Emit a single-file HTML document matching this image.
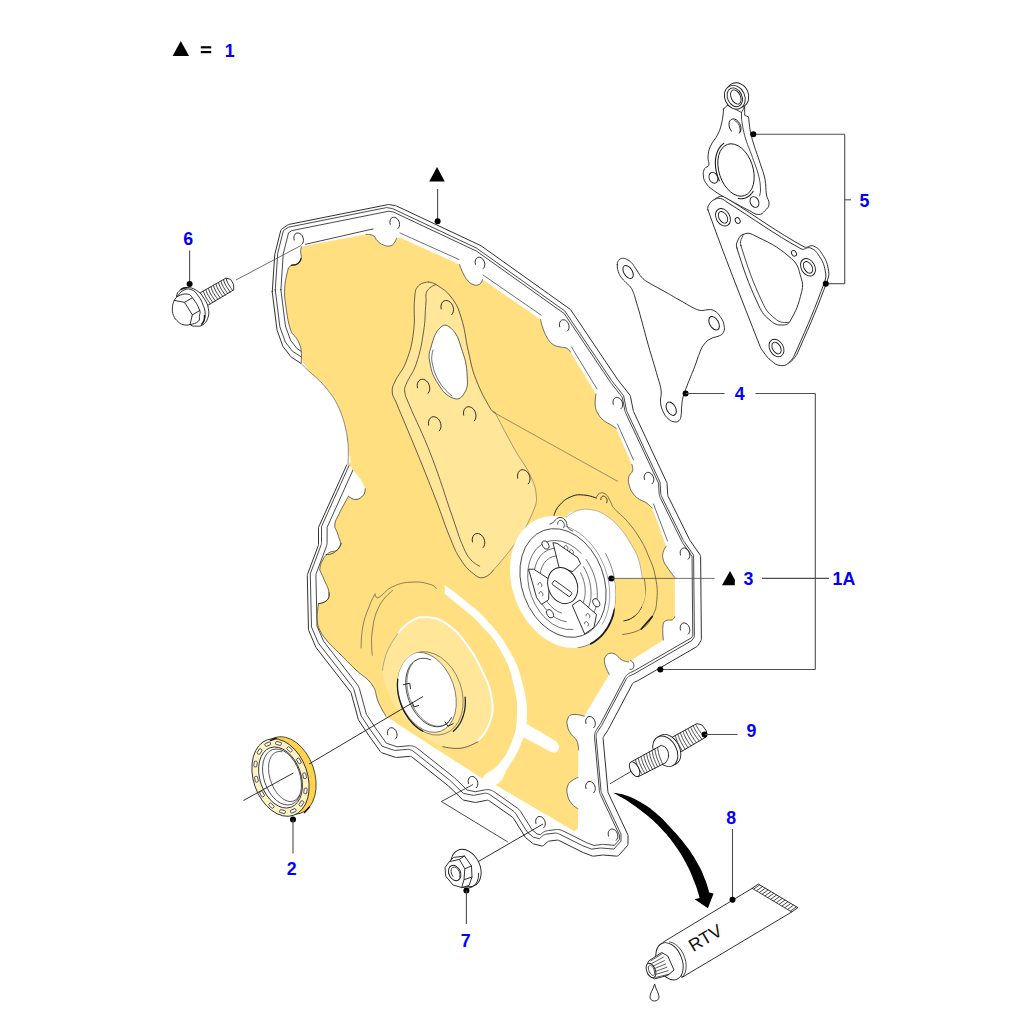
<!DOCTYPE html>
<html><head><meta charset="utf-8"><title>diagram</title><style>html,body{margin:0;padding:0;background:#fff}svg{display:block}text{font-family:"Liberation Sans",sans-serif}</style></head><body>
<svg width="1024" height="1024" viewBox="0 0 1024 1024">
<defs><clipPath id="cutout"><path d="M0,0H1024V1024H0Z M" clip-rule="evenodd"/></clipPath></defs>
<path d="M272.27,291.67 L272.27,292 L272.29,292.33 L276.95,329.61 L277.02,330 L277.13,330.37 L282.71,345.88 L282.85,346.22 L283.03,346.54 L283.24,346.84 L290.73,356.53 L290.99,356.83 L291.28,357.09 L291.6,357.32 L300.14,362.84 L300.51,363.11 L300.78,363.35 L301.02,363.62 L301.24,363.92 L301.47,364.32 L329.88,419.77 L330.09,420.24 L346.68,462.29 L346.82,462.71 L346.89,463.05 L346.94,463.39 L346.95,463.74 L346.92,464.09 L346.86,464.43 L346.77,464.77 L346.61,465.18 L318.81,526.81 L318.68,527.16 L318.58,527.52 L318.52,527.88 L318.5,528.25 L318.5,544.29 L318.48,544.68 L318.44,544.99 L318.37,545.29 L318.25,545.67 L307.49,574.37 L307.39,574.68 L307.31,575.01 L307.27,575.34 L307.27,575.68 L308.48,629.32 L308.51,629.66 L308.56,629.99 L308.65,630.31 L308.77,630.62 L315.82,647.09 L315.95,647.36 L316.1,647.61 L316.28,647.86 L350.52,691.88 L350.76,692.23 L350.93,692.53 L351.07,692.85 L351.21,693.26 L358.35,719.45 L358.47,719.81 L358.62,720.15 L358.82,720.47 L368.47,734.95 L368.53,735.05 L380.34,751.57 L380.57,751.86 L380.82,752.12 L381.11,752.35 L381.41,752.56 L381.74,752.73 L382.08,752.86 L395.32,757.27 L395.66,757.37 L396.01,757.43 L396.36,757.45 L396.72,757.44 L409.54,756.37 L409.95,756.36 L410.28,756.38 L410.6,756.43 L410.92,756.51 L411.23,756.62 L411.53,756.76 L411.82,756.92 L412.15,757.16 L448.3,785.84 L448.68,786.18 L462.26,799.29 L462.51,799.51 L462.78,799.7 L463.07,799.87 L463.37,800.01 L463.68,800.12 L464.01,800.2 L474.81,802.36 L475.16,802.41 L475.5,802.43 L475.84,802.41 L476.19,802.36 L486.45,800.31 L486.88,800.25 L487.24,800.23 L487.59,800.25 L487.94,800.3 L488.28,800.39 L488.61,800.52 L488.92,800.67 L489.3,800.91 L512.34,817.04 L512.69,817.31 L512.94,817.55 L513.17,817.82 L513.42,818.18 L525.2,837.02 L525.42,837.33 L525.66,837.61 L525.93,837.86 L532.38,843.24 L532.64,843.43 L532.9,843.59 L533.18,843.74 L533.48,843.85 L533.78,843.94 L541.08,845.77 L541.43,845.84 L541.79,845.87 L542.15,845.87 L542.51,845.83 L542.86,845.75 L543.2,845.63 L543.53,845.48 L543.84,845.3 L544.13,845.09 L544.4,844.85 L547.09,842.16 L547.4,841.88 L547.66,841.68 L547.94,841.51 L548.24,841.36 L548.55,841.25 L548.87,841.16 L549.27,841.09 L556.86,840.14 L557.29,840.11 L557.63,840.12 L557.97,840.16 L558.31,840.23 L558.63,840.34 L559.02,840.51 L582.84,852.42 L583.17,852.56 L592.19,855.95 L592.51,856.05 L592.84,856.12 L593.18,856.16 L593.52,856.17 L593.86,856.14 L602.55,855.06 L603,855.02 L603.45,855.04 L616.26,856.1 L616.62,856.12 L616.98,856.09 L617.33,856.03 L617.68,855.93 L618.01,855.8 L618.33,855.63 L618.63,855.43 L618.91,855.2 L619.16,854.94 L627.12,845.99 L627.34,845.71 L627.54,845.41 L627.7,845.08 L627.83,844.74 L627.92,844.39 L627.98,844.03 L628,843.67 L628,835.78 L627.98,835.4 L627.92,835.02 L627.81,834.65 L627.67,834.29 L608.3,793.13 L608.15,792.78 L608.06,792.48 L607.99,792.19 L607.94,791.81 L603.12,738.81 L603.1,738.39 L603.12,738.05 L603.17,737.72 L603.25,737.39 L603.37,737.07 L603.51,736.77 L603.73,736.4 L607.9,730.15 L608.08,729.84 L632.38,683.92 L632.6,683.55 L632.8,683.28 L633.02,683.03 L633.27,682.8 L633.54,682.59 L633.83,682.41 L634.21,682.23 L637.81,680.68 L638.18,680.5 L696.74,646.69 L697.03,646.5 L697.3,646.29 L697.55,646.05 L697.77,645.79 L697.96,645.51 L700.86,640.87 L701.02,640.58 L701.16,640.27 L701.26,639.96 L701.33,639.64 L701.38,639.31 L701.39,638.98 L700.61,556.68 L700.59,556.33 L700.53,555.99 L700.44,555.65 L700.32,555.32 L700.17,555.01 L699.98,554.71 L689.89,540.27 L689.71,539.99 L689.55,539.7 L668.15,496.31 L667.98,495.91 L667.87,495.58 L667.8,495.24 L667.75,494.82 L667.04,483.66 L667.01,483.34 L666.94,483.02 L666.84,482.7 L666.72,482.4 L633.63,411.73 L633.43,411.24 L633.3,410.73 L630.46,396.43 L630.38,396.11 L630.27,395.79 L630.14,395.49 L629.97,395.21 L629.78,394.94 L618.12,380.15 L617.89,379.84 L570.85,310.03 L570.67,309.77 L570.46,309.54 L570.23,309.33 L569.98,309.13 L481.26,245.93 L480.99,245.76 L480.72,245.62 L396.44,205.96 L396.14,205.83 L395.84,205.74 L395.52,205.67 L389.13,204.61 L388.82,204.57 L388.5,204.56 L388.18,204.58 L387.87,204.63 L289.18,224.36 L288.85,224.45 L288.53,224.56 L288.22,224.71 L287.92,224.88 L282.13,228.75 L281.87,228.94 L281.62,229.15 L281.4,229.39 L281.21,229.65 L281.03,229.92 L280.89,230.2 L280.76,230.5 L280.67,230.81 L274.83,254.2 L274.76,254.5 L274.73,254.81 L272.27,291.67 Z" fill="#fff" stroke="#1a1a1a" stroke-width="0.9" stroke-linecap="round" stroke-linejoin="round" />
<path d="M275.27,289.85 L279.89,326.83 L285.34,341.96 L292.53,351.26 L300.85,356.64 L301.07,356.79 L301.44,357.06 L301.84,357.39 L302.12,357.63 L302.49,358 L302.73,358.27 L303.06,358.68 L303.28,358.97 L303.56,359.41 L303.79,359.81 L303.92,360.04 L332.33,415.49 L332.44,415.71 L332.65,416.18 L332.75,416.41 L349.33,458.46 L349.41,458.69 L349.55,459.11 L349.69,459.59 L349.77,459.93 L349.85,460.42 L349.9,460.77 L349.94,461.26 L349.94,461.61 L349.93,462.11 L349.91,462.46 L349.85,462.96 L349.78,463.3 L349.67,463.79 L349.58,464.12 L349.42,464.6 L349.26,465 L349.16,465.23 L321.5,526.58 L321.5,542.29 L321.49,542.51 L321.48,542.9 L321.44,543.35 L321.4,543.66 L321.32,544.1 L321.25,544.41 L321.13,544.84 L321.01,545.21 L320.93,545.42 L310.27,573.85 L311.48,626.92 L318.34,642.94 L352.46,686.81 L352.61,687.01 L352.86,687.36 L353.12,687.78 L353.29,688.08 L353.51,688.52 L353.65,688.84 L353.83,689.3 L353.96,689.71 L354.03,689.94 L361.11,715.9 L370.61,730.15 L370.62,730.17 L382.12,746.27 L394.61,750.43 L407.12,749.39 L407.36,749.38 L407.77,749.36 L408.24,749.37 L408.57,749.38 L409.04,749.43 L409.36,749.48 L409.82,749.58 L410.14,749.66 L410.59,749.79 L410.9,749.9 L411.34,750.08 L411.64,750.22 L412.06,750.44 L412.34,750.61 L412.74,750.86 L413.07,751.1 L413.26,751.25 L449.41,779.92 L449.59,780.08 L449.98,780.42 L450.16,780.58 L463.42,793.38 L473.5,795.4 L483.47,793.41 L483.71,793.36 L484.15,793.3 L484.65,793.25 L485.01,793.24 L485.51,793.24 L485.86,793.26 L486.37,793.31 L486.71,793.37 L487.21,793.47 L487.55,793.56 L488.03,793.71 L488.36,793.84 L488.82,794.04 L489.14,794.19 L489.58,794.44 L489.96,794.67 L490.17,794.81 L513.21,810.95 L513.41,811.09 L513.76,811.36 L514.14,811.69 L514.39,811.93 L514.74,812.3 L514.97,812.56 L515.27,812.96 L515.53,813.32 L515.66,813.53 L527.32,832.17 L533.32,837.18 L539.47,838.71 L541.56,836.62 L541.73,836.46 L542.03,836.18 L542.4,835.88 L542.66,835.68 L543.05,835.42 L543.33,835.25 L543.75,835.02 L544.04,834.87 L544.48,834.69 L544.79,834.57 L545.23,834.42 L545.55,834.34 L546.01,834.23 L546.42,834.16 L546.65,834.13 L554.24,833.18 L554.49,833.16 L554.91,833.12 L555.4,833.11 L555.75,833.12 L556.23,833.15 L556.57,833.2 L557.06,833.28 L557.39,833.35 L557.86,833.48 L558.19,833.59 L558.65,833.76 L559.04,833.94 L559.26,834.04 L582.95,845.89 L583.05,845.93 L591.6,849.14 L599.93,848.1 L600.19,848.07 L600.64,848.04 L601.16,848.03 L601.61,848.04 L601.87,848.06 L613.92,849.06 L621,841.1 L621,834.12 L601.77,793.26 L601.68,793.06 L601.54,792.71 L601.38,792.3 L601.29,792.01 L601.18,791.58 L601.11,791.29 L601.03,790.86 L600.98,790.48 L600.96,790.26 L596.14,737.27 L596.12,737.03 L596.11,736.6 L596.11,736.12 L596.13,735.78 L596.18,735.3 L596.23,734.96 L596.33,734.49 L596.41,734.16 L596.55,733.7 L596.67,733.38 L596.85,732.93 L597,732.62 L597.22,732.2 L597.44,731.83 L597.57,731.63 L601.67,725.48 L601.72,725.39 L625.96,679.58 L626.08,679.37 L626.3,679 L626.56,678.6 L626.76,678.32 L627.07,677.95 L627.29,677.7 L627.63,677.35 L627.88,677.12 L628.25,676.81 L628.52,676.61 L628.92,676.33 L629.21,676.16 L629.64,675.92 L630.02,675.74 L630.24,675.64 L633.7,674.15 L633.81,674.09 L691.92,640.54 L694.39,636.59 L693.61,555.2 L683.79,541.14 L683.69,540.98 L683.51,540.7 L683.31,540.37 L683.16,540.08 L683.07,539.91 L661.66,496.52 L661.56,496.29 L661.39,495.9 L661.21,495.44 L661.11,495.11 L660.98,494.63 L660.91,494.29 L660.83,493.81 L660.78,493.38 L660.76,493.13 L660.07,482.26 L627.1,411.85 L626.98,411.57 L626.78,411.08 L626.59,410.51 L626.46,409.99 L626.39,409.7 L623.63,395.75 L612.2,381.25 L612.08,381.1 L611.85,380.78 L611.74,380.63 L564.86,311.05 L476.46,248.08 L392.5,208.57 L386.58,207.58 L288.45,227.21 L283.38,230.59 L277.71,253.28 L275.27,289.85 Z" fill="none" stroke="#1a1a1a" stroke-width="0.8" stroke-linecap="round" stroke-linejoin="round" />
<path d="M280.89,289.75 L285.42,325.99 L290.53,340.21 L297,348.58 L304.8,353.62 L305.18,353.87 L305.55,354.14 L306.25,354.71 L306.52,354.95 L307.16,355.59 L307.4,355.86 L307.97,356.55 L308.19,356.85 L308.68,357.6 L308.91,358 L309.12,358.39 L337.54,413.85 L337.72,414.23 L337.93,414.7 L338.09,415.08 L354.68,457.14 L354.82,457.54 L354.96,457.96 L355.2,458.78 L355.28,459.12 L355.43,459.97 L355.47,460.31 L355.53,461.17 L355.54,461.52 L355.52,462.38 L355.5,462.73 L355.39,463.58 L355.33,463.92 L355.14,464.76 L355.05,465.1 L354.77,465.91 L354.61,466.32 L354.45,466.71 L327.1,527.35 L327.1,542.29 L327.09,542.67 L327.07,543.06 L327,543.83 L326.96,544.14 L326.83,544.9 L326.76,545.21 L326.55,545.95 L326.43,546.32 L326.3,546.69 L315.89,574.46 L317.06,626.14 L323.47,641.09 L357.31,684.6 L357.56,684.94 L357.81,685.29 L358.26,686.01 L358.43,686.31 L358.81,687.07 L358.95,687.39 L359.25,688.18 L359.38,688.59 L359.5,689 L366.43,714.39 L375.58,728.11 L386.37,743.23 L397.04,746.78 L408.82,745.8 L409.23,745.78 L409.64,745.76 L410.45,745.77 L410.78,745.79 L411.58,745.88 L411.91,745.93 L412.7,746.09 L413.02,746.17 L413.8,746.4 L414.11,746.51 L414.86,746.82 L415.16,746.96 L415.87,747.33 L416.16,747.5 L416.84,747.94 L417.17,748.18 L417.49,748.42 L453.64,777.1 L453.97,777.37 L454.35,777.71 L454.66,777.99 L467.16,790.06 L475.5,791.73 L484.76,789.88 L485.19,789.8 L485.62,789.74 L486.49,789.66 L486.84,789.64 L487.71,789.64 L488.06,789.66 L488.93,789.75 L489.27,789.81 L490.12,789.99 L490.46,790.08 L491.29,790.34 L491.62,790.46 L492.42,790.81 L492.74,790.97 L493.49,791.39 L493.87,791.62 L494.23,791.86 L517.28,808 L517.62,808.25 L517.97,808.52 L518.62,809.08 L518.88,809.33 L519.47,809.95 L519.7,810.22 L520.23,810.9 L520.48,811.26 L520.72,811.62 L532.06,829.77 L536.99,833.88 L540.36,834.73 L541.01,834.08 L541.31,833.8 L541.61,833.52 L542.24,833 L542.5,832.8 L543.17,832.35 L543.45,832.17 L544.16,831.78 L544.46,831.64 L545.21,831.32 L545.52,831.2 L546.29,830.95 L546.61,830.86 L547.4,830.69 L547.81,830.62 L548.21,830.56 L555.8,829.61 L556.22,829.57 L556.64,829.53 L557.49,829.51 L557.83,829.52 L558.67,829.58 L559.01,829.62 L559.84,829.76 L560.17,829.84 L560.98,830.06 L561.31,830.17 L562.1,830.47 L562.49,830.64 L562.87,830.82 L586.44,842.61 L594.04,845.45 L601.48,844.52 L601.93,844.48 L602.38,844.45 L603.27,844.43 L603.72,844.44 L604.17,844.47 L614.43,845.32 L619.4,839.73 L619.4,834.92 L600.51,794.79 L600.36,794.45 L600.21,794.09 L599.96,793.39 L599.86,793.1 L599.67,792.38 L599.6,792.08 L599.47,791.34 L599.41,790.96 L599.37,790.59 L594.55,737.59 L594.53,737.18 L594.51,736.75 L594.51,735.92 L594.53,735.58 L594.62,734.75 L594.67,734.42 L594.84,733.6 L594.92,733.27 L595.16,732.48 L595.28,732.16 L595.6,731.39 L595.74,731.08 L596.14,730.35 L596.35,729.98 L596.58,729.63 L600.6,723.59 L624.78,677.89 L624.99,677.53 L625.2,677.17 L625.66,676.47 L625.86,676.2 L626.38,675.55 L626.61,675.3 L627.19,674.7 L627.44,674.48 L628.08,673.94 L628.35,673.74 L629.04,673.27 L629.33,673.09 L630.06,672.69 L630.44,672.5 L630.81,672.33 L634.14,670.9 L691.34,637.88 L692.78,635.57 L692.03,556.34 L682.84,543.2 L682.66,542.93 L682.48,542.65 L682.15,542.09 L681.99,541.8 L681.84,541.51 L660.44,498.11 L660.26,497.72 L660.09,497.33 L659.79,496.53 L659.68,496.21 L659.46,495.39 L659.39,495.05 L659.25,494.21 L659.2,493.78 L659.17,493.36 L658.52,483.17 L625.84,413.38 L625.63,412.9 L625.44,412.41 L625.11,411.42 L624.98,410.91 L624.86,410.4 L622.27,397.3 L611.37,383.48 L611.17,383.22 L610.94,382.91 L610.76,382.64 L564.24,313.6 L476.64,251.2 L393.41,212.04 L388.64,211.24 L291.85,230.6 L288.54,232.81 L283.28,253.84 L280.89,289.75 Z" fill="none" stroke="#1a1a1a" stroke-width="0.8" stroke-linecap="round" stroke-linejoin="round" />
<path d="M305.5,244.3 L366,230.5 L373,229" fill="none" stroke="#1a1a1a" stroke-width="0.8" stroke-linecap="round" stroke-linejoin="round" />
<path d="M301.6,246.8 C301.6,246.8 366,234.3 366,234.3 C366,234.3 370.52,234.04 373.5,235.75 C375.94,237.15 375.19,238.84 377.25,240.75 C379.75,243.06 380.3,243.84 383.5,245 C386.69,246.16 387.72,246.62 391,245.75 C393.31,245.14 393.34,243.92 394.75,242 C395.85,240.5 396.5,238.25 396.5,238.25 C396.5,238.25 399.75,237.5 399.75,237.5 C399.75,237.5 459.5,264.5 459.5,264.5 C459.5,264.5 461.15,269.3 463,273 C464.65,276.3 464.83,277.22 467.25,280 C469.41,282.48 469.9,283.41 473,284.5 C475.76,285.47 476.9,285.65 479.5,284.3 C481.78,283.11 482.6,279.5 482.6,279.5 C482.6,279.5 540.5,319.5 540.5,319.5 C540.5,319.5 541.33,323.71 542.5,327 C544.14,331.6 544.23,332.81 546.75,337 C549.01,340.77 549.45,341.92 553,344.5 C555.88,346.59 557.07,346.06 560.5,347 C563.27,347.75 564.18,346.97 566.75,348.25 C568.88,349.32 570.5,352 570.5,352 C570.5,352 596,394 596,394 C596,394 594.81,400.05 595.2,405 C595.49,408.65 595.79,409.56 597.5,412.8 C599.37,416.34 600.01,417.13 603,419.8 C606.4,422.83 607.68,422.82 611.5,425.3 C613.64,426.69 616.25,428.4 616.25,428.4 C616.25,428.4 631.9,464.4 631.9,464.4 C631.9,464.4 633.29,467.88 632.6,470.6 C631.79,473.82 629.4,473.64 628.75,476.9 C627.93,481.04 628.39,482.18 629.5,486.25 C630.52,490.02 631.02,490.91 633.4,494 C635.7,496.98 636.59,497.38 639.7,499.5 C642.31,501.28 643.4,500.81 646,502.6 C649.07,504.71 652.2,508.1 652.2,508.1 C652.2,508.1 666.25,546.25 666.25,546.25 C666.25,546.25 663.73,549.41 663.1,552.5 C662.4,555.94 662.39,556.94 663.4,560.3 C664.56,564.16 665.57,564.74 667.8,568.1 C670.71,572.5 674.8,577.5 674.8,577.5 C674.8,577.5 674.8,616.6 674.8,616.6 C674.8,616.6 674.08,618.98 672.5,619.7 C669.92,620.88 668.79,619.23 666.25,620.5 C664.23,621.51 663.43,622.17 663.1,624.4 C662.15,630.9 663.4,640 663.4,640 C663.4,640 628.75,661.9 628.75,661.9 C628.75,661.9 625.09,661.6 622.5,660.3 C620.04,659.07 619.9,658.17 617.8,656.4 C616.75,655.52 616.77,654.91 615.5,654.4 C613.15,653.47 612.47,652.8 610,653.3 C607.63,653.78 606.9,654.36 605.6,656.4 C604.24,658.53 604.25,659.39 604.5,661.9 C604.86,665.55 605.61,666.26 606.9,669.7 C607.73,671.9 609.2,674.4 609.2,674.4 C609.2,674.4 584.25,716.25 584.25,716.25 C584.25,716.25 578.09,713.95 573,714.5 C570.27,714.79 569.18,715.52 568,718 C566.44,721.25 566.84,722.45 567.5,726 C568.22,729.86 568.9,730.68 571,734 C573.22,737.5 575.24,737.24 577,741 C578.74,744.72 578.5,750 578.5,750 C578.5,750 578,777.5 578,777.5 C578,777.5 575.01,778.49 573,780 C570.45,781.91 569.1,782.01 568,785 C566.45,789.23 566.57,790.59 567.5,795 C568.43,799.43 569.25,800.4 572,804 C574.09,806.74 578,808.75 578,808.75 C578,808.75 578,828.75 578,828.75 C578,828.75 574.25,831.25 574.25,831.25 C574.25,831.25 495.5,785 495.5,785 C495.5,785 483,778.75 483,778.75 C483,778.75 436,748.75 436,748.75 C436,748.75 386,716.25 386,716.25 C386,716.25 381.34,708.95 378.5,702.5 C375.13,694.85 377.01,691.88 372.25,685 C366.59,676.82 363.17,676.9 356,670 C347.98,662.27 346.38,660.38 338.5,652.5 C334,648 332.57,647.39 328.5,642.5 C324.1,637.23 322.82,636.14 319.75,630 C317.68,625.85 317.47,624.63 317.25,620 C316.9,612.67 318.5,603.75 318.5,603.75 C318.5,603.75 324.33,603.13 327.25,600 C329.61,597.47 329.46,595.94 329,592.5 C328.28,587.14 326.81,586.26 324.75,581.25 C322.64,576.13 319.75,570 319.75,570 C319.75,570 319.91,565.58 321.5,562.5 C323.93,557.78 324.34,556.3 328.5,553 C331.76,550.41 333.9,552.48 337.25,550 C339.89,548.05 341,543.75 341,543.75 C341,543.75 338.94,537.56 337.25,532.5 C336.12,529.12 334.5,528.55 334.75,525 C335.09,520.21 336.43,519.34 338.5,515 C342.63,506.37 348.5,496.25 348.5,496.25 C348.5,496.25 352.33,499.81 356,499.5 C359.92,499.17 360.93,497.98 363.5,495 C365.4,492.79 365.25,488.75 365.25,488.75 C365.25,488.75 363.39,483.67 361,480 C357.5,474.62 356.07,473.9 352.25,468.75 C350.22,466.02 348,462.5 348,462.5 C348,462.5 348.33,455.63 348.3,450 C348.28,446.62 348.32,445.85 347.9,442.5 C347.1,436.12 347.03,434.67 345.6,428.4 C344.14,422 343.79,420.55 341.5,414.4 C339.28,408.42 338.68,407.09 335.6,401.5 C332.86,396.53 332.08,395.48 328.6,391 C324.69,385.97 323.7,384.92 319.2,380.4 C314.73,375.9 313.33,375.33 308.7,371 C305.14,367.68 301,363.4 301,363.4 C301,363.4 301.67,357.9 301.4,353.4 C301.17,349.66 301.07,348.76 299.9,345.2 C298.8,341.85 298.27,341.18 296.4,338.2 C294.3,334.85 292.35,334.95 291.1,331.2 C287.63,320.8 287.58,318.02 286,307 C284.72,298.07 284.19,296 284.75,287 C285.28,278.44 288.4,268.3 288.4,268.3 C288.4,268.3 289.62,266.14 291.3,265.3 C294.18,263.86 295.55,265.24 298.2,263.4 C300.31,261.94 300.62,261.02 301.1,258.5 C301.75,255.04 300.45,254.21 300.6,250.7 C300.68,248.89 301.6,246.8 301.6,246.8 Z" fill="#FFDF80" stroke="none"/>
<path d="M301,363.4 C305.18,360.91 305.14,367.68 308.7,371 C313.33,375.33 314.73,375.9 319.2,380.4 C323.7,384.92 324.69,385.97 328.6,391 C332.08,395.48 332.86,396.53 335.6,401.5 C338.68,407.09 339.28,408.42 341.5,414.4 C343.79,420.55 344.14,422 345.6,428.4 C347.03,434.67 347.1,436.12 347.9,442.5 C348.32,445.85 348.28,446.62 348.3,450 C348.33,456.3 353.82,461.59 348,464 C331.9,470.67 317.6,482.8 300,470 C270.67,448.67 259.67,435.53 260,400 C260.23,375.27 284.77,373.07 301,363.4 Z" fill="#fff" stroke="none"/>
<path d="M301,363.4 C301,363.4 305.14,367.68 308.7,371 C313.33,375.33 314.73,375.9 319.2,380.4 C323.7,384.92 324.69,385.97 328.6,391 C332.08,395.48 332.86,396.53 335.6,401.5 C338.68,407.09 339.28,408.42 341.5,414.4 C343.79,420.55 344.14,422 345.6,428.4 C347.03,434.67 347.1,436.12 347.9,442.5 C348.32,445.85 348.28,446.62 348.3,450 C348.33,456.3 348,464 348,464" fill="none" stroke="#444" stroke-width="0.6" stroke-linecap="round" stroke-linejoin="round" />
<path d="M390.26,224.31 L389.96,222.67 L390.01,221.07 L390.41,219.64 L391.14,218.47 L392.13,217.65 L393.31,217.25 L394.6,217.29 L395.9,217.78 L397.12,218.66 L398.16,219.89 L398.95,221.36 L399.43,222.97 L399.56,224.61 L399.34,226.14 L398.78,227.46 L397.92,228.47" fill="none" stroke="#1a1a1a" stroke-width="0.9" stroke-linecap="round" stroke-linejoin="round" />
<path d="M475.51,264.31 L475.21,262.67 L475.26,261.07 L475.66,259.64 L476.39,258.47 L477.38,257.65 L478.56,257.25 L479.85,257.29 L481.15,257.78 L482.37,258.66 L483.41,259.89 L484.2,261.36 L484.68,262.97 L484.81,264.61 L484.59,266.14 L484.03,267.46 L483.17,268.47" fill="none" stroke="#1a1a1a" stroke-width="0.9" stroke-linecap="round" stroke-linejoin="round" />
<path d="M559.76,326.81 L559.46,325.17 L559.51,323.57 L559.91,322.14 L560.64,320.97 L561.63,320.15 L562.81,319.75 L564.1,319.79 L565.4,320.28 L566.62,321.16 L567.66,322.39 L568.45,323.86 L568.93,325.47 L569.06,327.11 L568.84,328.64 L568.28,329.96 L567.42,330.97" fill="none" stroke="#1a1a1a" stroke-width="0.9" stroke-linecap="round" stroke-linejoin="round" />
<path d="M613.31,404.46 L613.01,402.82 L613.06,401.22 L613.46,399.79 L614.19,398.62 L615.18,397.8 L616.36,397.4 L617.65,397.44 L618.95,397.93 L620.17,398.81 L621.21,400.04 L622,401.51 L622.48,403.12 L622.61,404.76 L622.39,406.29 L621.83,407.61 L620.97,408.62" fill="none" stroke="#1a1a1a" stroke-width="0.9" stroke-linecap="round" stroke-linejoin="round" />
<path d="M644.51,479.46 L644.21,477.82 L644.26,476.22 L644.66,474.79 L645.39,473.62 L646.38,472.8 L647.56,472.4 L648.85,472.44 L650.15,472.93 L651.37,473.81 L652.41,475.04 L653.2,476.51 L653.68,478.12 L653.81,479.76 L653.59,481.29 L653.03,482.61 L652.17,483.62" fill="none" stroke="#1a1a1a" stroke-width="0.9" stroke-linecap="round" stroke-linejoin="round" />
<path d="M680.51,555.06 L680.21,553.42 L680.26,551.82 L680.66,550.39 L681.39,549.22 L682.38,548.4 L683.56,548 L684.85,548.04 L686.15,548.53 L687.37,549.41 L688.41,550.64 L689.2,552.11 L689.68,553.72 L689.81,555.36 L689.59,556.89 L689.03,558.21 L688.17,559.22" fill="none" stroke="#1a1a1a" stroke-width="0.9" stroke-linecap="round" stroke-linejoin="round" />
<path d="M680.51,630.06 L680.21,628.42 L680.26,626.82 L680.66,625.39 L681.39,624.22 L682.38,623.4 L683.56,623 L684.85,623.04 L686.15,623.53 L687.37,624.41 L688.41,625.64 L689.2,627.11 L689.68,628.72 L689.81,630.36 L689.59,631.89 L689.03,633.21 L688.17,634.22" fill="none" stroke="#1a1a1a" stroke-width="0.9" stroke-linecap="round" stroke-linejoin="round" />
<path d="M366,234.3 C366,234.3 370.52,234.04 373.5,235.75 C375.94,237.15 375.19,238.84 377.25,240.75 C379.75,243.06 380.3,243.84 383.5,245 C386.69,246.16 387.72,246.62 391,245.75 C393.31,245.14 393.34,243.92 394.75,242 C395.85,240.5 396.5,238.25 396.5,238.25" fill="none" stroke="#333" stroke-width="0.7" stroke-linecap="round" stroke-linejoin="round" />
<path d="M459.5,264.5 C459.5,264.5 461.15,269.3 463,273 C464.65,276.3 464.83,277.22 467.25,280 C469.41,282.48 469.9,283.41 473,284.5 C475.76,285.47 476.9,285.65 479.5,284.3 C481.78,283.11 482.6,279.5 482.6,279.5" fill="none" stroke="#333" stroke-width="0.7" stroke-linecap="round" stroke-linejoin="round" />
<path d="M540.5,319.5 C540.5,319.5 541.33,323.71 542.5,327 C544.14,331.6 544.23,332.81 546.75,337 C549.01,340.77 549.45,341.92 553,344.5 C555.88,346.59 557.07,346.06 560.5,347 C563.27,347.75 564.18,346.97 566.75,348.25 C568.88,349.32 570.5,352 570.5,352" fill="none" stroke="#333" stroke-width="0.7" stroke-linecap="round" stroke-linejoin="round" />
<path d="M596,394 C596,394 594.81,400.05 595.2,405 C595.49,408.65 595.79,409.56 597.5,412.8 C599.37,416.34 600.01,417.13 603,419.8 C606.4,422.83 607.68,422.82 611.5,425.3 C613.64,426.69 616.25,428.4 616.25,428.4" fill="none" stroke="#333" stroke-width="0.7" stroke-linecap="round" stroke-linejoin="round" />
<path d="M631.9,464.4 C631.9,464.4 633.29,467.88 632.6,470.6 C631.79,473.82 629.4,473.64 628.75,476.9 C627.93,481.04 628.39,482.18 629.5,486.25 C630.52,490.02 631.02,490.91 633.4,494 C635.7,496.98 636.59,497.38 639.7,499.5 C642.31,501.28 643.4,500.81 646,502.6 C649.07,504.71 652.2,508.1 652.2,508.1" fill="none" stroke="#333" stroke-width="0.7" stroke-linecap="round" stroke-linejoin="round" />
<path d="M666.25,546.25 C666.25,546.25 663.73,549.41 663.1,552.5 C662.4,555.94 662.39,556.94 663.4,560.3 C664.56,564.16 665.57,564.74 667.8,568.1 C670.71,572.5 674.8,577.5 674.8,577.5" fill="none" stroke="#333" stroke-width="0.7" stroke-linecap="round" stroke-linejoin="round" />
<path d="M674.8,616.6 C674.8,616.6 674.08,618.98 672.5,619.7 C669.92,620.88 668.79,619.23 666.25,620.5 C664.23,621.51 663.43,622.17 663.1,624.4 C662.15,630.9 663.4,640 663.4,640" fill="none" stroke="#333" stroke-width="0.7" stroke-linecap="round" stroke-linejoin="round" />
<path d="M628.75,661.9 C628.75,661.9 625.09,661.6 622.5,660.3 C620.04,659.07 619.9,658.17 617.8,656.4 C616.75,655.52 616.77,654.91 615.5,654.4 C613.15,653.47 612.47,652.8 610,653.3 C607.63,653.78 606.9,654.36 605.6,656.4 C604.24,658.53 604.25,659.39 604.5,661.9 C604.86,665.55 605.61,666.26 606.9,669.7 C607.73,671.9 609.2,674.4 609.2,674.4" fill="none" stroke="#333" stroke-width="0.7" stroke-linecap="round" stroke-linejoin="round" />
<path d="M584.25,716.25 C584.25,716.25 578.09,713.95 573,714.5 C570.27,714.79 569.18,715.52 568,718 C566.44,721.25 566.84,722.45 567.5,726 C568.22,729.86 568.9,730.68 571,734 C573.22,737.5 575.24,737.24 577,741 C578.74,744.72 578.5,750 578.5,750" fill="none" stroke="#333" stroke-width="0.7" stroke-linecap="round" stroke-linejoin="round" />
<path d="M578,777.5 C578,777.5 575.01,778.49 573,780 C570.45,781.91 569.1,782.01 568,785 C566.45,789.23 566.57,790.59 567.5,795 C568.43,799.43 569.25,800.4 572,804 C574.09,806.74 578,808.75 578,808.75" fill="none" stroke="#333" stroke-width="0.7" stroke-linecap="round" stroke-linejoin="round" />
<path d="M386,716.25 C386,716.25 381.34,708.95 378.5,702.5 C375.13,694.85 377.01,691.88 372.25,685 C366.59,676.82 363.17,676.9 356,670 C347.98,662.27 346.38,660.38 338.5,652.5 C334,648 332.57,647.39 328.5,642.5 C324.1,637.23 322.82,636.14 319.75,630 C317.68,625.85 317.47,624.63 317.25,620 C316.9,612.67 318.5,603.75 318.5,603.75" fill="none" stroke="#333" stroke-width="0.7" stroke-linecap="round" stroke-linejoin="round" />
<path d="M318.5,603.75 C318.5,603.75 324.33,603.13 327.25,600 C329.61,597.47 329.46,595.94 329,592.5 C328.28,587.14 326.81,586.26 324.75,581.25 C322.64,576.13 319.75,570 319.75,570" fill="none" stroke="#333" stroke-width="0.7" stroke-linecap="round" stroke-linejoin="round" />
<path d="M319.75,570 C319.75,570 319.91,565.58 321.5,562.5 C323.93,557.78 324.34,556.3 328.5,553 C331.76,550.41 333.9,552.48 337.25,550 C339.89,548.05 341,543.75 341,543.75" fill="none" stroke="#333" stroke-width="0.7" stroke-linecap="round" stroke-linejoin="round" />
<path d="M341,543.75 C341,543.75 338.94,537.56 337.25,532.5 C336.12,529.12 334.5,528.55 334.75,525 C335.09,520.21 336.43,519.34 338.5,515 C342.63,506.37 348.5,496.25 348.5,496.25" fill="none" stroke="#333" stroke-width="0.7" stroke-linecap="round" stroke-linejoin="round" />
<path d="M301,363.4 C301,363.4 301.67,357.9 301.4,353.4 C301.17,349.66 301.07,348.76 299.9,345.2 C298.8,341.85 298.27,341.18 296.4,338.2 C294.3,334.85 292.35,334.95 291.1,331.2 C287.63,320.8 287.58,318.02 286,307 C284.72,298.07 284.19,296 284.75,287 C285.28,278.44 288.4,268.3 288.4,268.3" fill="none" stroke="#333" stroke-width="0.7" stroke-linecap="round" stroke-linejoin="round" />
<path d="M288.4,268.3 C288.4,268.3 289.62,266.14 291.3,265.3 C294.18,263.86 295.55,265.24 298.2,263.4 C300.31,261.94 300.62,261.02 301.1,258.5 C301.75,255.04 300.45,254.21 300.6,250.7 C300.68,248.89 301.6,246.8 301.6,246.8" fill="none" stroke="#333" stroke-width="0.7" stroke-linecap="round" stroke-linejoin="round" />
<path d="M294.21,240.06 L293.91,238.42 L293.96,236.82 L294.36,235.39 L295.09,234.22 L296.08,233.4 L297.26,233 L298.55,233.04 L299.85,233.53 L301.07,234.41 L302.11,235.64 L302.9,237.11 L303.38,238.72 L303.51,240.36 L303.29,241.89 L302.73,243.21 L301.87,244.22" fill="none" stroke="#1a1a1a" stroke-width="0.9" stroke-linecap="round" stroke-linejoin="round" />
<path d="M586.01,723.56 L585.71,721.92 L585.76,720.32 L586.16,718.89 L586.89,717.72 L587.88,716.9 L589.06,716.5 L590.35,716.54 L591.65,717.03 L592.87,717.91 L593.91,719.14 L594.7,720.61 L595.18,722.22 L595.31,723.86 L595.09,725.39 L594.53,726.71 L593.67,727.72" fill="none" stroke="#1a1a1a" stroke-width="0.9" stroke-linecap="round" stroke-linejoin="round" />
<path d="M586.01,788.56 L585.71,786.92 L585.76,785.32 L586.16,783.89 L586.89,782.72 L587.88,781.9 L589.06,781.5 L590.35,781.54 L591.65,782.03 L592.87,782.91 L593.91,784.14 L594.7,785.61 L595.18,787.22 L595.31,788.86 L595.09,790.39 L594.53,791.71 L593.67,792.72" fill="none" stroke="#1a1a1a" stroke-width="0.9" stroke-linecap="round" stroke-linejoin="round" />
<path d="M608.51,836.06 L608.21,834.42 L608.26,832.82 L608.66,831.39 L609.39,830.22 L610.38,829.4 L611.56,829 L612.85,829.04 L614.15,829.53 L615.37,830.41 L616.41,831.64 L617.2,833.11 L617.68,834.72 L617.81,836.36 L617.59,837.89 L617.03,839.21 L616.17,840.22" fill="none" stroke="#1a1a1a" stroke-width="0.9" stroke-linecap="round" stroke-linejoin="round" />
<path d="M536.01,823.56 L535.71,821.92 L535.76,820.32 L536.16,818.89 L536.89,817.72 L537.88,816.9 L539.06,816.5 L540.35,816.54 L541.65,817.03 L542.87,817.91 L543.91,819.14 L544.7,820.61 L545.18,822.22 L545.31,823.86 L545.09,825.39 L544.53,826.71 L543.67,827.72" fill="none" stroke="#1a1a1a" stroke-width="0.9" stroke-linecap="round" stroke-linejoin="round" />
<path d="M468.51,783.56 L468.21,781.92 L468.26,780.32 L468.66,778.89 L469.39,777.72 L470.38,776.9 L471.56,776.5 L472.85,776.54 L474.15,777.03 L475.37,777.91 L476.41,779.14 L477.2,780.61 L477.68,782.22 L477.81,783.86 L477.59,785.39 L477.03,786.71 L476.17,787.72" fill="none" stroke="#1a1a1a" stroke-width="0.9" stroke-linecap="round" stroke-linejoin="round" />
<path d="M387.76,734.81 L387.46,733.17 L387.51,731.57 L387.91,730.14 L388.64,728.97 L389.63,728.15 L390.81,727.75 L392.1,727.79 L393.4,728.28 L394.62,729.16 L395.66,730.39 L396.45,731.86 L396.93,733.47 L397.06,735.11 L396.84,736.64 L396.28,737.96 L395.42,738.97" fill="none" stroke="#1a1a1a" stroke-width="0.9" stroke-linecap="round" stroke-linejoin="round" />
<path d="M630.61,660.74 L631.31,661.03 L631.97,661.48 L632.57,662.06 L633.08,662.75 L633.48,663.53 L633.76,664.37 L633.91,665.23 L633.92,666.08 L633.79,666.89 L633.52,667.63 L633.14,668.26 L632.64,668.77 L632.05,669.14 L631.4,669.35 L630.7,669.39 L629.99,669.26" fill="none" stroke="#1a1a1a" stroke-width="0.8" stroke-linecap="round" stroke-linejoin="round" />
<path d="M400,233 L459,259.5" fill="none" stroke="#333" stroke-width="0.7" stroke-linecap="round" stroke-linejoin="round" />
<path d="M483,275 L541,315" fill="none" stroke="#333" stroke-width="0.7" stroke-linecap="round" stroke-linejoin="round" />
<path d="M571.5,347 L597,389" fill="none" stroke="#333" stroke-width="0.7" stroke-linecap="round" stroke-linejoin="round" />
<path d="M617.5,424 L633.5,460" fill="none" stroke="#333" stroke-width="0.7" stroke-linecap="round" stroke-linejoin="round" />
<path d="M653.5,504 L667.5,541" fill="none" stroke="#333" stroke-width="0.7" stroke-linecap="round" stroke-linejoin="round" />
<path d="M348.5,496.25 C348.5,496.25 352.33,499.81 356,499.5 C359.92,499.17 360.93,497.98 363.5,495 C365.4,492.79 365.25,488.75 365.25,488.75" fill="none" stroke="#333" stroke-width="0.8" stroke-linecap="round" stroke-linejoin="round" />
<path d="M326,554.5 C326,554.5 328.9,554.84 331,554 C334.1,552.76 334.92,552.39 337.25,550 C339.54,547.65 341,543.75 341,543.75" fill="none" stroke="#333" stroke-width="0.8" stroke-linecap="round" stroke-linejoin="round" />
<path d="M318.5,603.75 C318.5,603.75 324.33,603.13 327.25,600 C329.61,597.47 329,592.5 329,592.5" fill="none" stroke="#333" stroke-width="0.8" stroke-linecap="round" stroke-linejoin="round" />
<path d="M291.3,265.3 C291.3,265.3 293.38,265.25 295,264.8 C296.52,264.38 297.11,264.53 298.2,263.4 C299.98,261.56 301.1,258.5 301.1,258.5" fill="none" stroke="#222" stroke-width="1.2" stroke-linecap="round" stroke-linejoin="round" />
<path d="M428.5,282 C423.71,282.34 421.75,282.21 418.5,285.75 C414.89,289.68 415.32,291.69 414.75,297 C413.08,312.42 415.6,316.38 413.5,332 C411.64,345.79 410.89,348.97 406,362 C402.37,371.67 399.05,372.61 394.75,382 C392.82,386.22 391.96,387.37 392.25,392 C392.55,396.8 394.18,397.55 396,402 C403.92,421.33 407.16,428.34 416,450 C425.16,472.44 427.22,477.41 436,500 C442.97,517.92 443.61,522.25 451,540 C454.87,549.29 455.42,551.63 461,560 C465.64,566.96 466.9,568.62 473.5,573.75 C477.29,576.7 478.78,578.39 483.5,577.5 C489.03,576.46 489.72,574.17 493.5,570 C504.83,557.5 507.87,554.36 517.5,540 C526.05,527.25 527.84,524.17 533.75,510 C536.38,503.68 536.98,501.8 536.25,495 C535.25,485.62 534.03,483.53 530,475 C524.4,463.14 521.41,461.45 515,450 C505.66,433.31 503,426 495,412.5 C493.85,410.56 492.12,411.45 491,409.5 C484.67,398.5 481.5,393.56 476,379.5 C471.33,367.55 471.49,364.47 468.5,352 C464.74,336.34 465.88,332.35 461,317 C457.95,307.41 457.14,304.98 451,297 C445.64,290.04 443.31,289.37 436,284.5 C433.04,282.53 432.05,281.75 428.5,282 Z" fill="#FFE698" stroke="none"/>
<path d="M428.5,282 C428.5,282 421.75,282.21 418.5,285.75 C414.89,289.68 415.32,291.69 414.75,297 C413.08,312.42 415.6,316.38 413.5,332 C411.64,345.79 410.89,348.97 406,362 C402.37,371.67 399.05,372.61 394.75,382 C392.82,386.22 391.96,387.37 392.25,392 C392.55,396.8 394.18,397.55 396,402 C403.92,421.33 407.16,428.34 416,450 C425.16,472.44 427.22,477.41 436,500 C442.97,517.92 443.61,522.25 451,540 C454.87,549.29 455.42,551.63 461,560 C465.64,566.96 466.9,568.62 473.5,573.75 C477.29,576.7 478.78,578.39 483.5,577.5 C489.03,576.46 493.5,570 493.5,570" fill="none" stroke="#333" stroke-width="0.75" stroke-linecap="round" stroke-linejoin="round" />
<path d="M436,284.5 C436,284.5 429.65,286.55 427.25,290.75 C424.72,295.17 426.46,296.93 426,302 C424.77,315.49 425.64,318.62 423.5,332 C421.13,346.82 420.75,350.26 416,364.5 C412.82,374.05 409.75,375.33 406,384.5 C404.7,387.67 404.29,388.61 404.75,392 C405.45,397.18 406.49,398.17 408.5,403 C417.25,424 421.85,431.2 431,455 C442.11,483.89 443.24,490.8 453.5,520 C457.86,532.42 458.22,535.44 463.5,547.5 C466.13,553.51 466.7,555.04 471,560 C474.17,563.66 479.75,566.25 479.75,566.25" fill="none" stroke="#333" stroke-width="0.75" stroke-linecap="round" stroke-linejoin="round" />
<path d="M428.5,282 C428.5,282 433.04,282.53 436,284.5 C443.31,289.37 445.64,290.04 451,297 C457.14,304.98 457.95,307.41 461,317 C465.88,332.35 464.74,336.34 468.5,352 C471.49,364.47 471.33,367.55 476,379.5 C481.5,393.56 484.67,398.5 491,409.5 C492.12,411.45 495,412.5 495,412.5" fill="none" stroke="#333" stroke-width="0.75" stroke-linecap="round" stroke-linejoin="round" />
<path d="M493.5,570 C493.5,570 507.87,554.36 517.5,540 C526.05,527.25 527.84,524.17 533.75,510 C536.38,503.68 536.98,501.8 536.25,495 C535.25,485.62 534.03,483.53 530,475 C524.4,463.14 521.41,461.45 515,450 C505.66,433.31 495,412.5 495,412.5" fill="none" stroke="#666" stroke-width="0.6" stroke-linecap="round" stroke-linejoin="round" />
<line x1="493" y1="412" x2="618" y2="481.5" stroke="#555" stroke-width="0.6"/>
<path d="M441,327 C444.31,323.9 447.79,325.04 451,328.25 C457.67,334.92 457.98,337.93 461,347 C465.36,360.08 466.53,363.23 467.25,377 C467.67,385.04 467.88,387.74 463.5,394.5 C460.89,398.53 457.96,400.03 453.5,398.25 C445.17,394.92 443.52,392.16 438.5,384.5 C432.55,375.41 431.88,372.65 429.75,362 C428.42,355.36 428.93,353.45 431,347 C434.08,337.42 434.33,333.25 441,327 Z" fill="#fff" stroke="#333" stroke-width="0.75"/>
<path d="M433,350 C433,350 430.88,356.7 432,362 C434.1,371.89 434.87,374.28 440,383 C444.04,389.86 452,396 452,396" fill="none" stroke="#333" stroke-width="0.7" stroke-linecap="round" stroke-linejoin="round" />
<path d="M441.22,308.97 L440.98,306.93 L441.17,304.99 L441.77,303.27 L442.75,301.89 L444.03,300.94 L445.53,300.49 L447.15,300.57 L448.78,301.17 L450.3,302.26 L451.61,303.75 L452.63,305.55 L453.28,307.53 L453.52,309.57 L453.33,311.51 L452.73,313.23 L451.75,314.61" fill="none" stroke="#1a1a1a" stroke-width="0.9" stroke-linecap="round" stroke-linejoin="round" />
<path d="M417.47,387.72 L417.23,385.68 L417.42,383.74 L418.02,382.02 L419,380.64 L420.28,379.69 L421.78,379.24 L423.4,379.32 L425.03,379.92 L426.55,381.01 L427.86,382.5 L428.88,384.3 L429.53,386.28 L429.77,388.32 L429.58,390.26 L428.98,391.98 L428,393.36" fill="none" stroke="#1a1a1a" stroke-width="0.9" stroke-linecap="round" stroke-linejoin="round" />
<path d="M428.72,425.22 L428.48,423.18 L428.67,421.24 L429.27,419.52 L430.25,418.14 L431.53,417.19 L433.03,416.74 L434.65,416.82 L436.28,417.42 L437.8,418.51 L439.11,420 L440.13,421.8 L440.78,423.78 L441.02,425.82 L440.83,427.76 L440.23,429.48 L439.25,430.86" fill="none" stroke="#1a1a1a" stroke-width="0.9" stroke-linecap="round" stroke-linejoin="round" />
<path d="M463.72,415.22 L463.48,413.18 L463.67,411.24 L464.27,409.52 L465.25,408.14 L466.53,407.19 L468.03,406.74 L469.65,406.82 L471.28,407.42 L472.8,408.51 L474.11,410 L475.13,411.8 L475.78,413.78 L476.02,415.82 L475.83,417.76 L475.23,419.48 L474.25,420.86" fill="none" stroke="#1a1a1a" stroke-width="0.9" stroke-linecap="round" stroke-linejoin="round" />
<path d="M472.47,541.97 L472.23,539.93 L472.42,537.99 L473.02,536.27 L474,534.89 L475.28,533.94 L476.78,533.49 L478.4,533.57 L480.03,534.17 L481.55,535.26 L482.86,536.75 L483.88,538.55 L484.53,540.53 L484.77,542.57 L484.58,544.51 L483.98,546.23 L483,547.61" fill="none" stroke="#1a1a1a" stroke-width="0.9" stroke-linecap="round" stroke-linejoin="round" />
<path d="M517.72,478.22 L517.48,476.18 L517.67,474.24 L518.27,472.52 L519.25,471.14 L520.53,470.19 L522.03,469.74 L523.65,469.82 L525.28,470.42 L526.8,471.51 L528.11,473 L529.13,474.8 L529.78,476.78 L530.02,478.82 L529.83,480.76 L529.23,482.48 L528.25,483.86" fill="none" stroke="#1a1a1a" stroke-width="0.9" stroke-linecap="round" stroke-linejoin="round" />
<path d="M361.13,647.94 C361.13,647.94 360.94,635.51 362.99,625.67 C365.14,615.33 366.64,613.27 370.41,603.4 C372.08,599.04 375.05,594.12 375.05,594.12" fill="none" stroke="#555" stroke-width="0.7" stroke-linecap="round" stroke-linejoin="round" />
<path d="M375.05,594.12 C375.05,594.12 375.91,598.64 377.83,597.83 C383.71,595.36 385.06,590.11 392.68,586.7 C401.28,582.85 403.68,582.51 413.09,582.06 C421.53,581.66 423.92,582.68 431.65,584.85 C434.22,585.57 436.29,588.56 436.29,588.56" fill="none" stroke="#555" stroke-width="0.7" stroke-linecap="round" stroke-linejoin="round" />
<path d="M372.27,655.36 C372.27,655.36 370.68,641.97 372.27,631.24 C374.05,619.21 374.25,616.13 379.69,605.26 C383.66,597.32 392.68,590.41 392.68,590.41" fill="none" stroke="#555" stroke-width="0.7" stroke-linecap="round" stroke-linejoin="round" />
<path d="M382.47,670.2 C381.94,661.61 383.75,659.57 387.11,651.65 C390.92,642.69 392.22,640.74 398.25,633.09 C403.18,626.83 404.19,624.77 411.24,621.03 C418.03,617.42 420.26,616.71 427.94,617.32 C436.76,618.01 439.16,618.86 446.49,623.81 C456.28,630.42 457.9,632.97 465.05,642.37 C473.89,654 475.56,656.97 481.75,670.2 C487.74,683 490.03,685.9 491.96,699.89 C493.45,710.72 492.7,713.67 489.17,724.02 C486.26,732.57 484.98,734.94 478.04,740.72 C471.84,745.88 469.3,745.96 461.34,747.21 C453.08,748.52 450.77,748.76 442.78,746.29 C432.79,743.19 430.69,741.49 422.37,735.15 C412.98,727.99 411.37,725.67 403.81,716.59 C396.7,708.05 394.54,706.28 389.9,696.18 C384.82,685.14 383.23,682.34 382.47,670.2 Z" fill="#FFE698" stroke="none"/>
<path d="M398.25,633.09 C398.25,633.09 404.19,624.77 411.24,621.03 C418.03,617.42 420.26,616.71 427.94,617.32 C436.76,618.01 439.16,618.86 446.49,623.81 C456.28,630.42 457.9,632.97 465.05,642.37 C473.89,654 475.56,656.97 481.75,670.2 C487.74,683 490.03,685.9 491.96,699.89 C493.45,710.72 492.7,713.67 489.17,724.02 C486.26,732.57 478.04,740.72 478.04,740.72" fill="none" stroke="#fff" stroke-width="2.0" stroke-linecap="round" stroke-linejoin="round" />
<path d="M382.47,670.2 C382.47,670.2 383.75,659.57 387.11,651.65 C390.92,642.69 398.25,633.09 398.25,633.09" fill="none" stroke="#777" stroke-width="0.6" stroke-linecap="round" stroke-linejoin="round" />
<path d="M478.04,741.65 C478.04,741.65 469.32,747.01 461.34,748.14 C453.04,749.32 442.78,746.66 442.78,746.66" fill="none" stroke="#444" stroke-width="0.8" stroke-linecap="round" stroke-linejoin="round" />
<clipPath id="bore"><ellipse cx="430.3" cy="693.4" rx="31.3" ry="42.9" transform="rotate(-20 430.3 693.4)" /></clipPath>
<ellipse cx="430.3" cy="693.4" rx="31.3" ry="42.9" transform="rotate(-20 430.3 693.4)" fill="#FFE698" stroke="#555" stroke-width="0.6"/>
<g clip-path="url(#bore)">
<ellipse cx="426.6" cy="692.3" rx="27.8" ry="41.4" transform="rotate(-20 426.6 692.3)" fill="#fff" stroke="#444" stroke-width="0.6"/>
</g>
<path d="M422.63,731.16 L418.75,728.69 L415.04,725.68 L411.57,722.18 L408.38,718.23 L405.53,713.91 L403.05,709.28 L401,704.4 L399.38,699.35 L398.24,694.22 L397.59,689.07 L397.44,683.99 L397.79,679.05" fill="none" stroke="#1a1a1a" stroke-width="1.3" stroke-linecap="round" stroke-linejoin="round" />
<path d="M465.15,697.1 L465.34,701.26 L465.21,705.36 L464.76,709.34 L463.99,713.18 L462.91,716.84 L461.54,720.28 L459.87,723.47 L457.93,726.38 L455.74,729 L453.31,731.28" fill="none" stroke="#1a1a1a" stroke-width="1.2" stroke-linecap="round" stroke-linejoin="round" />
<path d="M451.5,717.5 L450.09,719.81 L448.45,721.82 L446.62,723.51 L444.61,724.86 L442.44,725.86 L440.14,726.49 L437.73,726.75 L435.24,726.63 L432.7,726.14 L430.13,725.28 L427.56,724.06 L425.02,722.5 L422.54,720.6 L420.14,718.4 L417.86,715.92 L415.71,713.18 L413.72,710.21 L411.91,707.05 L410.31,703.73 L408.92,700.28 L407.77,696.75 L406.86,693.18 L406.22,689.59 L405.83,686.04 L405.72,682.56 L405.87,679.19 L406.29,675.96 L406.97,672.92 L407.91,670.09 L409.1,667.5 L410.51,665.19 L412.15,663.18 L413.98,661.49 L415.99,660.14 L418.16,659.14 L420.46,658.51 L422.87,658.25 L425.36,658.37 L427.9,658.86 L430.47,659.72" fill="none" stroke="#333" stroke-width="0.9" stroke-linecap="round" stroke-linejoin="round" />
<path d="M448.76,722.21 L446.89,723.69 L444.86,724.85 L442.7,725.67 L440.42,726.13 L438.04,726.25 L435.6,726.01 L433.11,725.42 L430.61,724.48 L428.12,723.2 L425.66,721.6 L423.26,719.7 L420.95,717.51 L418.75,715.05 L416.68,712.36 L414.76,709.45 L413.02,706.37 L411.47,703.13 L410.12,699.78 L409,696.35 L408.11,692.87 L407.46,689.39 L407.06,685.93 L406.92,682.54 L407.02,679.24 L407.39,676.07 L408,673.08 L408.85,670.27 L409.94,667.69 L411.26,665.37 L412.78,663.31" fill="none" stroke="#333" stroke-width="0.6" stroke-linecap="round" stroke-linejoin="round" />
<path d="M403.44,684.68 L409.75,683.19 L410.49,688.76" fill="none" stroke="#1a1a1a" stroke-width="0.9" stroke-linecap="round" stroke-linejoin="round" />
<path d="M412.16,702.12 L414.02,706.95 L418.66,705.46" fill="none" stroke="#1a1a1a" stroke-width="0.9" stroke-linecap="round" stroke-linejoin="round" />
<path d="M445.01,721.79 L447.98,726.24 L453.17,723.65" fill="none" stroke="#1a1a1a" stroke-width="0.9" stroke-linecap="round" stroke-linejoin="round" />
<path d="M444.75,585 C444.75,585 454.53,591.78 462,598 C473.45,607.54 476.84,608.87 486.75,620 C498.79,633.53 501.68,636.68 510.5,652.5 C518.13,666.19 519.33,669.77 523,685 C526.71,700.4 527.41,704.17 526.75,720 C526.27,731.59 524.76,734.21 520.5,745 C516.25,755.77 514.14,757.68 508,767.5 C502.87,775.71 503.83,781.25 495.5,785 C489.76,787.58 482.22,784.99 483,778.75 C483.83,772.08 492.22,772.1 498,765 C504.7,756.77 506.42,754.8 510.5,745 C514.96,734.3 516,731.57 516.75,720 C517.7,705.36 517.43,701.82 514.25,687.5 C510.62,671.17 509.85,667.13 501.75,652.5 C493.33,637.28 489.81,634.77 478,622 C469.12,612.39 465.97,611.47 456,603 C451.01,598.76 444.75,593.75 444.75,593.75 C444.75,593.75 444.75,585 444.75,585 Z" fill="#fff" stroke="none"/>
<path d="M524,722.5 C524,722.5 544,733.5 555.5,741 C557.38,742.23 557.75,742.88 558.5,745 C559.17,746.91 559.36,747.66 558.5,749.5 C557.62,751.38 556.95,751.8 555,752.5 C553.5,753.04 551.5,752 551.5,752 C551.5,752 520,735.5 520,735.5 C520,735.5 524,722.5 524,722.5 Z" fill="#fff" stroke="none"/>
<path d="M554,515.3 C554,515.3 555.56,509.45 558.75,506 C563.52,500.83 564.81,499.43 571.25,496.6 C576.44,494.32 578.09,494.68 583.75,495 C589.53,495.32 596.25,498 596.25,498" fill="none" stroke="#1a1a1a" stroke-width="1.0" stroke-linecap="round" stroke-linejoin="round" />
<path d="M596.25,498 C596.25,498 597.08,494.34 599.4,493.4 C602.01,492.34 603.32,492.56 605.6,494.2 C608.69,496.43 608.37,497.96 610.3,501.25 C611.89,503.96 611.37,505.1 613.4,507.5 C619.13,514.28 621.68,514.77 627.5,521.6 C633.69,528.87 634.97,530.63 640,538.75 C644.14,545.44 644.79,547.13 647.8,554.4 C651.55,563.47 653.05,565.37 655,575 C657.18,585.79 657.64,588.41 656.9,599.4 C656.36,607.41 655.95,609.51 652.2,616.6 C648.72,623.18 647.63,625.16 641.25,629 C633.72,633.54 622.5,634.5 622.5,634.5" fill="none" stroke="#444" stroke-width="0.7" stroke-linecap="round" stroke-linejoin="round" />
<path d="M644.4,579 C644.4,579 645.9,586.73 645.2,593 C644.46,599.59 644.22,601.27 641.25,607.2 C638.79,612.13 637.76,613.23 633.4,616.6 C629.77,619.4 624,620.5 624,620.5" fill="none" stroke="#444" stroke-width="0.7" stroke-linecap="round" stroke-linejoin="round" />
<path d="M641.25,607.2 C641.25,607.2 637.76,613.23 633.4,616.6 C629.77,619.4 624,620.5 624,620.5" fill="none" stroke="#1a1a1a" stroke-width="1.6" stroke-linecap="round" stroke-linejoin="round" />
<path d="M652.2,616.6 C652.2,616.6 641.25,629 641.25,629" fill="none" stroke="#1a1a1a" stroke-width="1.6" stroke-linecap="round" stroke-linejoin="round" />
<path d="M600.88,499.68 L600.9,498.76 L601.09,497.92 L601.44,497.2 L601.95,496.63 L602.57,496.26 L603.27,496.11 L604.02,496.18 L604.76,496.46 L605.46,496.95 L606.08,497.61 L606.58,498.41 L606.93,499.31 L607.11,500.24 L607.11,501.15 L606.94,502.01 L606.59,502.74" fill="none" stroke="#1a1a1a" stroke-width="0.8" stroke-linecap="round" stroke-linejoin="round" />
<path d="M566.6,516.9 C568.49,511.56 572.05,512.15 577.5,510.6 C583.61,508.86 585.33,508.75 591.6,509.8 C598.28,510.92 599.9,511.65 605.6,515.3 C612.74,519.87 614.06,521.46 619.7,527.8 C625.39,534.2 626.2,536.05 630.6,543.4 C634.63,550.13 635.92,551.55 638.4,559 C641.24,567.53 642.3,578.6 642.3,578.6 C642.3,578.6 600,578.6 600,578.6 C600,578.6 560,560 560,560 C560,560 560.77,533.37 566.6,516.9 Z" fill="#fff" stroke="none"/>
<path d="M566.6,516.9 C566.6,516.9 572.05,512.15 577.5,510.6 C583.61,508.86 585.33,508.75 591.6,509.8 C598.28,510.92 599.9,511.65 605.6,515.3 C612.74,519.87 614.06,521.46 619.7,527.8 C625.39,534.2 626.2,536.05 630.6,543.4 C634.63,550.13 635.92,551.55 638.4,559 C641.24,567.53 642.3,578.6 642.3,578.6" fill="none" stroke="#888" stroke-width="0.6" stroke-linecap="round" stroke-linejoin="round" />
<ellipse cx="563" cy="582" rx="50.6" ry="67.8" transform="rotate(-20.5 563 582)" fill="#fff" stroke="none"/>
<path d="M605.55,553.52 L607.94,558.36 L610.05,563.36 L611.85,568.47 L613.34,573.67 L614.5,578.92 L615.34,584.2 L615.85,589.46 L616.01,594.67 L615.84,599.8 L615.33,604.81 L614.48,609.68 L613.3,614.38 L611.81,618.86 L610,623.11 L607.89,627.1 L605.49,630.8 L602.82,634.19 L599.9,637.24 L596.74,639.94 L593.36,642.27 L589.79,644.21 L586.05,645.76 L582.16,646.9 L578.15,647.62" fill="none" stroke="#555" stroke-width="0.7" stroke-linecap="round" stroke-linejoin="round" />
<path d="M614.57,609.25 L613.45,613.87 L612.01,618.3 L610.28,622.51 L608.25,626.47 L605.95,630.15 L603.38,633.53 L600.56,636.6 L597.5,639.33 L594.24,641.71 L590.78,643.72" fill="none" stroke="#1a1a1a" stroke-width="1.8" stroke-linecap="round" stroke-linejoin="round" />
<path d="M550,524 C549.22,522.52 551.94,523.28 553.3,522.3 C555.9,520.42 555.6,518.32 558.75,517.7 C561.69,517.12 562.96,517.8 565,520 C567.57,522.77 565.92,524.72 568.1,527.8 C569.58,529.89 574.71,529.3 572.8,531 C570.1,533.4 565.77,536.77 560,535 C553.6,533.04 552.23,528.23 550,524 Z" fill="#fff" stroke="none"/>
<path d="M550,524 C550,524 551.94,523.28 553.3,522.3 C555.9,520.42 555.6,518.32 558.75,517.7 C561.69,517.12 562.96,517.8 565,520 C567.57,522.77 565.92,524.72 568.1,527.8 C569.58,529.89 572.8,531 572.8,531" fill="none" stroke="#1a1a1a" stroke-width="0.8" stroke-linecap="round" stroke-linejoin="round" />
<path d="M557.68,524.18 L557.71,523.17 L557.94,522.25 L558.36,521.47 L558.95,520.88 L559.66,520.52 L560.46,520.4 L561.3,520.55 L562.11,520.94 L562.86,521.55 L563.48,522.34 L563.96,523.28 L564.25,524.29 L564.33,525.31 L564.21,526.28 L563.88,527.14 L563.38,527.83" fill="none" stroke="#1a1a1a" stroke-width="0.8" stroke-linecap="round" stroke-linejoin="round" />
<ellipse cx="563" cy="583" rx="41" ry="56" transform="rotate(-20.5 563 583)" fill="none" stroke="#333" stroke-width="0.8"/>
<path d="M565.49,526.13 L570.36,527.99 L575.15,530.46 L579.8,533.5 L584.27,537.08 L588.5,541.17 L592.46,545.71 L596.09,550.67 L599.37,555.97 L602.24,561.58 L604.68,567.42 L606.67,573.42 L608.18,579.54 L609.19,585.69 L609.7,591.81 L609.69,597.84 L609.18,603.7 L608.15,609.34 L606.64,614.69 L604.64,619.69 L602.19,624.28" fill="none" stroke="#666" stroke-width="0.6" stroke-linecap="round" stroke-linejoin="round" />
<path d="M573,629.44 L566.16,629.32 L559.18,627.43 L552.32,623.83 L545.88,618.67 L540.11,612.17 L535.23,604.57 L531.45,596.18 L528.92,587.35 L527.73,578.42 L527.94,569.75 L529.54,561.7 L532.46,554.58 L536.59,548.69 L541.75,544.25 L547.75,541.45 L554.35,540.4 L561.27,541.14 L568.24,543.63 L574.98,547.79 L581.21,553.45" fill="none" stroke="#333" stroke-width="0.7" stroke-linecap="round" stroke-linejoin="round" />
<path d="M566.36,621.68 L561.13,620.47 L555.95,618.07 L550.99,614.56 L546.42,610.06 L542.38,604.72 L539.02,598.72 L536.44,592.27 L534.74,585.56 L533.97,578.84 L534.15,572.33 L535.28,566.24 L537.33,560.78 L540.21,556.13 L543.84,552.45 L548.1,549.85 L552.84,548.44 L557.9,548.25 L563.12,549.29 L568.32,551.52 L573.32,554.88" fill="none" stroke="#333" stroke-width="0.7" stroke-linecap="round" stroke-linejoin="round" />
<path d="M561.53,613.1 L557.8,611.47 L554.19,609.12 L550.82,606.1 L547.76,602.51 L545.11,598.43 L542.94,593.99 L541.3,589.3 L540.25,584.49 L539.8,579.7 L539.98,575.05 L540.77,570.67 L542.16,566.69 L544.11,563.21 L546.56,560.33 L549.46,558.12 L552.7,556.65 L556.22,555.96 L559.91,556.07 L563.67,556.97 L567.4,558.63" fill="none" stroke="#333" stroke-width="0.7" stroke-linecap="round" stroke-linejoin="round" />
<path d="M586.04,559.4 L588.19,562.69 L590.14,566.14 L591.89,569.73 L593.41,573.44 L594.7,577.24 L595.74,581.1 L596.53,584.99 L597.06,588.88 L597.32,592.74 L597.32,596.53 L597.06,600.25 L596.53,603.84 L595.75,607.3 L594.71,610.58 L593.43,613.67 L591.91,616.54 L590.16,619.17 L588.21,621.54 L586.06,623.63 L583.73,625.43" fill="none" stroke="#333" stroke-width="0.7" stroke-linecap="round" stroke-linejoin="round" />
<path d="M583.48,566.65 L584.94,569.22 L586.26,571.88 L587.43,574.62 L588.45,577.42 L589.31,580.27 L590,583.15 L590.53,586.04 L590.88,588.93 L591.06,591.79 L591.06,594.61 L590.88,597.37 L590.53,600.05 L590.01,602.64 L589.31,605.12 L588.45,607.48 L587.43,609.7 L586.26,611.77 L584.94,613.67 L583.49,615.4 L581.9,616.93" fill="none" stroke="#333" stroke-width="0.7" stroke-linecap="round" stroke-linejoin="round" />
<path d="M580.51,572.71 L581.43,574.57 L582.26,576.49 L582.99,578.46 L583.63,580.45 L584.16,582.46 L584.58,584.49 L584.9,586.52 L585.11,588.55 L585.21,590.55 L585.19,592.53 L585.07,594.47 L584.84,596.37 L584.5,598.21 L584.05,599.98 L583.49,601.69 L582.84,603.31 L582.08,604.84 L581.23,606.28 L580.29,607.61 L579.26,608.83" fill="none" stroke="#333" stroke-width="0.7" stroke-linecap="round" stroke-linejoin="round" />
<path d="M553.3,542.7 L557.2,543.4 L577.5,557.5 L580.6,563.75 L572.8,571.6 L559.5,567.7 Z" fill="#fff" stroke="#1a1a1a" stroke-width="0.9" stroke-linecap="round" stroke-linejoin="round" />
<path d="M529,569.2 L533.75,569.2 L549.4,579.4 L548.6,599.7 L541.6,604.4 L536.9,598.1 Z" fill="#fff" stroke="#1a1a1a" stroke-width="0.9" stroke-linecap="round" stroke-linejoin="round" />
<path d="M572.5,605 L580,600 L596.5,614.5 L594,627.5 L585,633.75 Z" fill="#fff" stroke="#1a1a1a" stroke-width="0.9" stroke-linecap="round" stroke-linejoin="round" />
<ellipse cx="562.7" cy="585.6" rx="14.5" ry="18.5" transform="rotate(-20.5 562.7 585.6)" fill="#fff" stroke="#1a1a1a" stroke-width="0.9"/>
<rect x="-11" y="-2.4" width="22" height="4.8" rx="1" fill="#fff" stroke="#1a1a1a" stroke-width="0.8" transform="translate(562,588.5) rotate(36)"/>
<ellipse cx="545.5" cy="545" rx="3" ry="4.5" transform="rotate(-30 545.5 545)" fill="#fff" stroke="#1a1a1a" stroke-width="0.8"/>
<ellipse cx="596.25" cy="602.8" rx="3" ry="4.5" transform="rotate(-30 596.25 602.8)" fill="#fff" stroke="#1a1a1a" stroke-width="0.8"/>
<ellipse cx="550" cy="613.75" rx="3" ry="4.5" transform="rotate(-30 550 613.75)" fill="#fff" stroke="#1a1a1a" stroke-width="0.8"/>
<path d="M564.13,547.81 L564.14,547.23 L564.27,546.71 L564.5,546.27 L564.83,545.93 L565.23,545.73 L565.69,545.66 L566.16,545.75 L566.62,545.97 L567.04,546.32 L567.39,546.78 L567.66,547.31 L567.83,547.89 L567.88,548.47 L567.81,549.02 L567.63,549.51 L567.35,549.91" fill="none" stroke="#1a1a1a" stroke-width="0.7" stroke-linecap="round" stroke-linejoin="round" />
<path d="M569.63,551.81 L569.64,551.23 L569.77,550.71 L570,550.27 L570.33,549.93 L570.73,549.73 L571.19,549.66 L571.66,549.75 L572.12,549.97 L572.54,550.32 L572.89,550.78 L573.16,551.31 L573.33,551.89 L573.38,552.47 L573.31,553.02 L573.13,553.51 L572.85,553.91" fill="none" stroke="#1a1a1a" stroke-width="0.7" stroke-linecap="round" stroke-linejoin="round" />
<path d="M538.13,584.81 L538.14,584.23 L538.27,583.71 L538.5,583.27 L538.83,582.93 L539.23,582.73 L539.69,582.66 L540.16,582.75 L540.62,582.97 L541.04,583.32 L541.39,583.78 L541.66,584.31 L541.83,584.89 L541.88,585.47 L541.81,586.02 L541.63,586.51 L541.35,586.91" fill="none" stroke="#1a1a1a" stroke-width="0.7" stroke-linecap="round" stroke-linejoin="round" />
<path d="M539.13,593.81 L539.14,593.23 L539.27,592.71 L539.5,592.27 L539.83,591.93 L540.23,591.73 L540.69,591.66 L541.16,591.75 L541.62,591.97 L542.04,592.32 L542.39,592.78 L542.66,593.31 L542.83,593.89 L542.88,594.47 L542.81,595.02 L542.63,595.51 L542.35,595.91" fill="none" stroke="#1a1a1a" stroke-width="0.7" stroke-linecap="round" stroke-linejoin="round" />
<path d="M586.13,615.81 L586.14,615.23 L586.27,614.71 L586.5,614.27 L586.83,613.93 L587.23,613.73 L587.69,613.66 L588.16,613.75 L588.62,613.97 L589.04,614.32 L589.39,614.78 L589.66,615.31 L589.83,615.89 L589.88,616.47 L589.81,617.02 L589.63,617.51 L589.35,617.91" fill="none" stroke="#1a1a1a" stroke-width="0.7" stroke-linecap="round" stroke-linejoin="round" />
<path d="M584.63,623.81 L584.64,623.23 L584.77,622.71 L585,622.27 L585.33,621.93 L585.73,621.73 L586.19,621.66 L586.66,621.75 L587.12,621.97 L587.54,622.32 L587.89,622.78 L588.16,623.31 L588.33,623.89 L588.38,624.47 L588.31,625.02 L588.13,625.51 L587.85,625.91" fill="none" stroke="#1a1a1a" stroke-width="0.7" stroke-linecap="round" stroke-linejoin="round" />
<clipPath id="below"><rect x="600" y="578.9" width="80" height="60"/></clipPath>
<g clip-path="url(#below)"><path d="M612,579 C612,579 642.3,579 642.3,579 C642.3,579 645.44,586.57 645.2,593 C644.95,599.63 644.22,601.27 641.25,607.2 C638.79,612.13 637.76,613.23 633.4,616.6 C629.77,619.4 628.41,619.27 624,620.5 C619.62,621.72 614,622 614,622 C614,622 614.41,613.82 614.97,607.13 C615.17,604.69 615.45,604.17 615.68,601.73 C615.92,599.23 615.94,598.67 616,596.17 C616.05,593.62 616.04,593.05 615.91,590.5 C615.77,587.92 615.72,587.34 615.41,584.77 C615.1,582.17 615.01,581.59 614.52,579.02 C614.03,576.42 613.9,575.85 613.24,573.29 C612.57,570.72 612.41,570.15 611.57,567.63 C610.74,565.1 609.44,559.41 609.54,562.07 C609.68,565.86 612,579 612,579 Z" fill="#FFDF80" stroke="none"/></g>
<path d="M617.3,264.6 C617.39,262.53 617.45,261.82 618.8,260.25 C620.08,258.76 620.75,258.54 622.7,258.3 C624.5,258.08 624.98,258.49 626.6,259.3 C629,260.5 629.54,260.87 631.5,262.7 C633.1,264.19 633.15,264.81 634.4,266.6 C635.76,268.54 635.96,269.04 637.3,271 C639.25,273.86 639.36,274.75 641.7,277.3 C643.82,279.61 644.45,280.03 647.1,281.7 C653.56,285.76 655.26,286.24 661.9,290 C670.51,294.88 672.38,296.04 681,300.9 C687.14,304.36 688.32,305.51 694.7,308.5 C697.59,309.85 698.33,310.16 701.5,310.5 C703.98,310.76 704.51,309.8 707,309.8 C710.08,309.8 711.1,309.02 713.8,310.5 C717.62,312.59 718.23,313.71 720.7,317.3 C722.96,320.59 723.4,321.57 724.1,325.5 C724.65,328.57 724.72,329.57 723.4,332.4 C722.39,334.57 721.45,334.74 719.3,335.8 C715.82,337.53 714.51,336.64 711.1,338.5 C707.65,340.39 706.83,340.98 704.3,344 C701.83,346.95 701.7,347.96 700.2,351.5 C697.37,358.16 697.3,359.85 694.7,366.6 C691.13,375.87 690.07,377.83 686.5,387.1 C684.85,391.38 684.22,392.26 683.1,396.7 C682.05,400.89 682.17,401.9 681.7,406.2 C681.23,410.51 681.8,411.54 681,415.8 C680.57,418.1 680.65,418.95 679,420.6 C677.63,421.97 676.82,422.16 674.9,421.9 C671.88,421.49 670.99,421.2 668.7,419.2 C665.55,416.45 665.01,415.47 663.2,411.7 C661.26,407.65 660.94,406.57 660.5,402.1 C660.02,397.21 661.74,396.09 661.2,391.2 C660.51,384.89 659.51,383.62 657.8,377.5 C653.66,362.69 652.39,359.5 648.2,344.7 C644.38,331.19 643.77,328.12 640,314.6 C638.01,307.47 637.52,305.9 635.4,298.8 C634.55,295.95 634.55,295.24 633.4,292.5 C632.33,289.96 632.15,289.31 630.5,287.1 C628.83,284.85 628.03,284.73 626.1,282.7 C623.84,280.32 623.08,279.99 621.2,277.3 C619.53,274.91 619.16,274.29 618.3,271.5 C617.38,268.5 617.16,267.73 617.3,264.6 Z" fill="#fff" stroke="#1a1a1a" stroke-width="0.9" stroke-linecap="round" stroke-linejoin="round" />
<ellipse cx="628.1" cy="272" rx="4.2" ry="7.2" transform="rotate(-32 628.1 272)" fill="#fff" stroke="#1a1a1a" stroke-width="1.0"/>
<ellipse cx="714.1" cy="323.2" rx="4.4" ry="7.4" transform="rotate(-30 714.1 323.2)" fill="#fff" stroke="#1a1a1a" stroke-width="1.0"/>
<ellipse cx="671.2" cy="408.7" rx="4.4" ry="7.2" transform="rotate(-28 671.2 408.7)" fill="#fff" stroke="#1a1a1a" stroke-width="1.0"/>
<path d="M711,208 C710.07,205.38 711.04,204.37 712.5,202 C714.09,199.43 714.79,198.85 717.5,197.5 C719.95,196.28 720.83,195.88 723.5,196.5 C727.04,197.32 727.42,198.58 730.5,200.5 C757.33,217.27 776.33,231.63 804,246.8 C807.76,248.86 809.55,244.33 813.5,246 C818.66,248.18 819.46,249.9 822.5,254.6 C826.22,260.34 826.88,261.99 828.2,268.7 C829.18,273.7 829.23,275.21 827.5,280 C817.87,306.77 811.3,322 799.3,349 C796.68,354.89 796.25,356.65 791.5,361 C788.72,363.55 787.25,363.94 783.5,363.5 C779,362.97 778.05,361.82 774.5,359 C770.26,355.63 769.75,354.33 766.5,350 C764.32,347.1 763.82,346.38 762.5,343 C744,295.67 727.67,255 711,208 Z" fill="#fff" stroke="#1a1a1a" stroke-width="0.9" stroke-linecap="round" stroke-linejoin="round" />
<path d="M708,210 C707.07,207.38 708.04,206.37 709.5,204 C711.09,201.43 711.79,200.85 714.5,199.5 C716.95,198.28 717.83,197.88 720.5,198.5 C724.04,199.32 724.42,200.58 727.5,202.5 C754.33,219.27 773.33,233.63 801,248.8 C804.76,250.86 806.55,246.33 810.5,248 C815.66,250.18 816.46,251.9 819.5,256.6 C823.22,262.34 823.88,263.99 825.2,270.7 C826.18,275.7 826.23,277.21 824.5,282 C814.87,308.77 808.3,324 796.3,351 C793.68,356.89 793.25,358.65 788.5,363 C785.72,365.55 784.25,365.94 780.5,365.5 C776,364.97 775.05,363.82 771.5,361 C767.26,357.63 766.75,356.33 763.5,352 C761.32,349.1 760.82,348.38 759.5,345 C741,297.67 724.67,257 708,210 Z" fill="#fff" stroke="#1a1a1a" stroke-width="0.9" stroke-linecap="round" stroke-linejoin="round" />
<clipPath id="tin"><path d="M736.9,248 C735.8,244.54 736.5,243.31 738,240 C739.38,236.95 739.87,235.69 743,234.5 C747,232.98 748.67,232.59 752.5,234.5 C768.7,242.58 776.11,245.01 791.6,258.75 C798.66,265.01 798.23,268.48 801,277.5 C802.87,283.57 803.25,285.44 801.7,291.6 C798.2,305.51 796.57,310.12 790,321.25 C787.98,324.67 785.98,325 782,325 C776.88,325 775.18,324.53 771.25,321.25 C764.33,315.48 762.58,313.76 758.75,305.6 C747.3,281.18 743.82,269.87 736.9,248 Z"/></clipPath>
<path d="M736.9,248 C735.8,244.54 736.5,243.31 738,240 C739.38,236.95 739.87,235.69 743,234.5 C747,232.98 748.67,232.59 752.5,234.5 C768.7,242.58 776.11,245.01 791.6,258.75 C798.66,265.01 798.23,268.48 801,277.5 C802.87,283.57 803.25,285.44 801.7,291.6 C798.2,305.51 796.57,310.12 790,321.25 C787.98,324.67 785.98,325 782,325 C776.88,325 775.18,324.53 771.25,321.25 C764.33,315.48 762.58,313.76 758.75,305.6 C747.3,281.18 743.82,269.87 736.9,248 Z" fill="none" stroke="#1a1a1a" stroke-width="0.9" stroke-linecap="round" stroke-linejoin="round" />
<g clip-path="url(#tin)">
<path d="M740.9,245.5 C739.8,242.04 740.5,240.81 742,237.5 C743.38,234.45 743.87,233.19 747,232 C751,230.48 752.67,230.09 756.5,232 C772.7,240.08 780.11,242.51 795.6,256.25 C802.66,262.51 802.23,265.98 805,275 C806.87,281.07 807.25,282.94 805.7,289.1 C802.2,303.01 800.57,307.62 794,318.75 C791.98,322.17 789.98,322.5 786,322.5 C780.88,322.5 779.18,322.03 775.25,318.75 C768.33,312.98 766.58,311.26 762.75,303.1 C751.3,278.68 747.82,267.37 740.9,245.5 Z" fill="none" stroke="#1a1a1a" stroke-width="0.8" stroke-linecap="round" stroke-linejoin="round" />
</g>
<ellipse cx="723" cy="217.3" rx="6.8" ry="9.3" transform="rotate(-30 723 217.3)" fill="#fff" stroke="#1a1a1a" stroke-width="0.9"/>
<ellipse cx="723" cy="217.3" rx="4" ry="6.3" transform="rotate(-30 723 217.3)" fill="#fff" stroke="#1a1a1a" stroke-width="0.9"/>
<ellipse cx="808" cy="267.3" rx="6.8" ry="9.3" transform="rotate(-30 808 267.3)" fill="#fff" stroke="#1a1a1a" stroke-width="0.9"/>
<ellipse cx="808" cy="267.3" rx="4" ry="6.3" transform="rotate(-30 808 267.3)" fill="#fff" stroke="#1a1a1a" stroke-width="0.9"/>
<ellipse cx="776.5" cy="348" rx="6.8" ry="9.3" transform="rotate(-30 776.5 348)" fill="#fff" stroke="#1a1a1a" stroke-width="0.9"/>
<ellipse cx="776.5" cy="348" rx="4" ry="6.3" transform="rotate(-30 776.5 348)" fill="#fff" stroke="#1a1a1a" stroke-width="0.9"/>
<ellipse cx="737.7" cy="220.5" rx="2.3" ry="3" transform="rotate(-30 737.7 220.5)" fill="#fff" stroke="#1a1a1a" stroke-width="0.9"/>
<ellipse cx="794" cy="253.3" rx="2.3" ry="3" transform="rotate(-30 794 253.3)" fill="#fff" stroke="#1a1a1a" stroke-width="0.9"/>
<path d="M723.6,109 C723.6,109 723.24,115.97 722,121.5 C720.71,127.26 720.5,128.65 718,134 C715.2,139.98 712.89,140.42 710.3,146.5 C708.32,151.15 708.42,152.46 708,157.5 C707.71,161.01 709.74,161.92 708.75,165.3 C708.11,167.47 705.93,166.45 704.8,168.4 C703.34,170.92 703.13,171.79 703.3,174.7 C703.51,178.35 703.61,179.43 705.6,182.5 C708.3,186.67 709.4,187.36 713.4,190.3 C720,195.15 721.86,195.67 729,199.7 C738.07,204.81 740.08,205.96 749.4,210.6 C753.48,212.63 754.19,214.5 758.75,214.5 C762.07,214.5 762.64,212.93 765,210.6 C767.37,208.27 768.68,207.71 769,204.4 C769.42,200.04 767.19,199.32 766.5,195 C765.39,188.04 766.37,186.32 765,179.4 C763.57,172.19 762.54,170.75 760.3,163.75 C756.91,153.16 755.69,150.95 752.5,140.3 C751.05,135.48 750.83,134.36 750,129.4 C749.07,123.82 748.6,116.9 748.6,116.9 C748.6,116.9 744.7,115.3 744.7,115.3 C744.7,115.3 744.7,106.7 744.7,106.7 C744.7,106.7 727.5,105 727.5,105 C727.5,105 723.6,109 723.6,109 Z" fill="#fff" stroke="#1a1a1a" stroke-width="0.9" stroke-linecap="round" stroke-linejoin="round" />
<path d="M741.5,118.4 C741.5,118.4 742.57,128.02 744.7,135.6 C747.53,145.67 749.08,147.61 752.5,157.5 C755.41,165.91 756.62,167.61 758.75,176.25 C760.24,182.31 760.26,183.77 760.5,190 C760.6,192.74 759.5,196 759.5,196" fill="none" stroke="#1a1a1a" stroke-width="0.8" stroke-linecap="round" stroke-linejoin="round" />
<path d="M727.5,105 L741.5,112.5 L741.5,118.4" fill="none" stroke="#1a1a1a" stroke-width="0.8" stroke-linecap="round" stroke-linejoin="round" />
<path d="M741.5,112.5 L744.7,106.7" fill="none" stroke="#1a1a1a" stroke-width="0.8" stroke-linecap="round" stroke-linejoin="round" />
<ellipse cx="736" cy="170" rx="17" ry="27" transform="rotate(-18 736 170)" fill="#fff" stroke="#1a1a1a" stroke-width="0.9"/>
<path d="M719.32,180.81 L717.62,176.51 L716.37,172.06 L715.6,167.56 L715.34,163.12 L715.58,158.84 L716.33,154.85 L717.56,151.22 L719.24,148.06 L721.34,145.43 L723.8,143.42" fill="none" stroke="#1a1a1a" stroke-width="1.1" stroke-linecap="round" stroke-linejoin="round" />
<path d="M753.17,191.28 L751.81,193.25 L750.27,194.95 L748.56,196.34 L746.7,197.42 L744.71,198.18 L742.62,198.6 L740.45,198.68 L738.22,198.43" fill="none" stroke="#1a1a1a" stroke-width="1.1" stroke-linecap="round" stroke-linejoin="round" />
<ellipse cx="713.4" cy="177.8" rx="4.2" ry="5.6" transform="rotate(-25 713.4 177.8)" fill="#fff" stroke="#1a1a1a" stroke-width="0.9"/>
<ellipse cx="754.5" cy="202" rx="4.2" ry="5.6" transform="rotate(-25 754.5 202)" fill="#fff" stroke="#1a1a1a" stroke-width="0.9"/>
<path d="M731.47,131.16 L730.17,129.14 L729.31,126.87 L728.98,124.56 L729.21,122.44 L729.97,120.69 L731.2,119.48 L732.78,118.92 L734.56,119.06 L736.39,119.89 L738.09,121.33 L739.5,123.25 L740.5,125.47 L740.98,127.79 L740.92,129.98 L740.3,131.86 L739.2,133.24" fill="none" stroke="#1a1a1a" stroke-width="1.0" stroke-linecap="round" stroke-linejoin="round" />
<path d="M734.75,120.66 L735.97,121.32 L737.16,122.36 L738.24,123.73 L739.13,125.31 L739.77,127.01 L740.12,128.71 L740.16,130.29 L739.87,131.65" fill="none" stroke="#1a1a1a" stroke-width="0.8" stroke-linecap="round" stroke-linejoin="round" />
<ellipse cx="737.5" cy="95.3" rx="11" ry="12.8" transform="rotate(-25 737.5 95.3)" fill="#fff" stroke="#1a1a1a" stroke-width="0.9"/>
<ellipse cx="734.8" cy="97.3" rx="10" ry="12.3" transform="rotate(-25 734.8 97.3)" fill="#fff" stroke="#1a1a1a" stroke-width="0.9"/>
<ellipse cx="734.8" cy="97.3" rx="7.2" ry="9.8" transform="rotate(-25 734.8 97.3)" fill="#fff" stroke="#1a1a1a" stroke-width="0.9"/>
<ellipse cx="735.8" cy="97" rx="4.6" ry="7.5" transform="rotate(-25 735.8 97)" fill="#fff" stroke="#1a1a1a" stroke-width="0.9"/>
<path d="M200.55,292.58 L225.94,278.12 L230.62,279.3 L233.59,284.38 L233.75,289.84 L207.58,305.47 Z" fill="#fff" stroke="#1a1a1a" stroke-width="0.9" stroke-linecap="round" stroke-linejoin="round" />
<path d="M203.47,291.33 C203.47,291.33 204.4,294.47 205.68,296.79 C207.58,300.22 210.49,304.04 210.49,304.04" fill="none" stroke="#1a1a1a" stroke-width="0.85" stroke-linecap="round" stroke-linejoin="round" />
<path d="M205.97,289.89 C205.97,289.89 206.9,293.02 208.18,295.33 C210.07,298.75 212.98,302.56 212.98,302.56" fill="none" stroke="#1a1a1a" stroke-width="0.85" stroke-linecap="round" stroke-linejoin="round" />
<path d="M208.48,288.45 C208.48,288.45 209.4,291.57 210.67,293.87 C212.56,297.28 215.47,301.08 215.47,301.08" fill="none" stroke="#1a1a1a" stroke-width="0.85" stroke-linecap="round" stroke-linejoin="round" />
<path d="M210.98,287.01 C210.98,287.01 211.9,290.12 213.17,292.41 C215.05,295.81 217.96,299.61 217.96,299.61" fill="none" stroke="#1a1a1a" stroke-width="0.85" stroke-linecap="round" stroke-linejoin="round" />
<path d="M213.48,285.57 C213.48,285.57 214.4,288.66 215.66,290.95 C217.54,294.34 220.44,298.13 220.44,298.13" fill="none" stroke="#1a1a1a" stroke-width="0.85" stroke-linecap="round" stroke-linejoin="round" />
<path d="M215.99,284.13 C215.99,284.13 216.9,287.21 218.16,289.49 C220.04,292.87 222.93,296.65 222.93,296.65" fill="none" stroke="#1a1a1a" stroke-width="0.85" stroke-linecap="round" stroke-linejoin="round" />
<path d="M218.49,282.69 C218.49,282.69 219.4,285.76 220.65,288.03 C222.53,291.41 225.42,295.17 225.42,295.17" fill="none" stroke="#1a1a1a" stroke-width="0.85" stroke-linecap="round" stroke-linejoin="round" />
<path d="M220.99,281.25 C220.99,281.25 221.89,284.31 223.15,286.57 C225.02,289.94 227.91,293.69 227.91,293.69" fill="none" stroke="#1a1a1a" stroke-width="0.85" stroke-linecap="round" stroke-linejoin="round" />
<path d="M223.5,279.81 C223.5,279.81 224.39,282.86 225.64,285.11 C227.51,288.47 230.39,292.21 230.39,292.21" fill="none" stroke="#1a1a1a" stroke-width="0.85" stroke-linecap="round" stroke-linejoin="round" />
<path d="M226,278.36 C226,278.36 226.89,281.41 228.14,283.65 C230.01,287 232.88,290.73 232.88,290.73" fill="none" stroke="#1a1a1a" stroke-width="0.85" stroke-linecap="round" stroke-linejoin="round" />
<path d="M176.72,296.09 C176.72,292.78 178.18,292.08 180.62,289.84 C182.6,288.03 183.42,287.43 186.09,287.5 C190.83,287.62 192.21,287.77 196.25,290.23 C200.6,292.88 201.26,294.18 204.06,298.44 C206.79,302.58 207.51,303.7 208.36,308.59 C209.14,313.11 209.12,314.43 207.58,318.75 C206.36,322.16 205.53,323.01 202.5,325 C200.11,326.57 199.11,326.17 196.25,326.17 C193.73,326.17 192.77,326.54 190.78,325 C185.57,320.96 183.56,320.1 180.62,314.06 C177.01,306.62 176.72,304.17 176.72,296.09 Z" fill="#fff" stroke="#1a1a1a" stroke-width="0.9" stroke-linecap="round" stroke-linejoin="round" />
<path d="M177.89,295.7 C177.89,295.7 180.06,292.03 182.97,290.62 C186.17,289.07 187.39,288.38 190.78,289.45 C194.71,290.69 195.28,292.07 197.81,295.31 C201.01,299.4 201.44,300.62 203.28,305.47 C204.81,309.5 205.13,310.54 205.23,314.84 C205.31,318.08 203.67,321.88 203.67,321.88" fill="none" stroke="#1a1a1a" stroke-width="0.9" stroke-linecap="round" stroke-linejoin="round" />
<path d="M181.02,289.45 C181.02,289.45 182.47,288.68 183.75,288.28 C184.95,287.91 186.48,287.73 186.48,287.73" fill="none" stroke="#1a1a1a" stroke-width="1.6" stroke-linecap="round" stroke-linejoin="round" />
<path d="M204.45,315.62 C204.45,315.62 204.7,318.3 204.06,320.31 C203.44,322.27 201.72,324.22 201.72,324.22" fill="none" stroke="#1a1a1a" stroke-width="1.4" stroke-linecap="round" stroke-linejoin="round" />
<path d="M174.38,300.39 C175.54,298.05 175.92,297.21 178.28,296.09 C182.18,294.26 183.37,293.66 187.66,294.14 C190.28,294.43 190.78,295.53 192.34,297.66 C196.32,303.04 197.42,304.3 199.77,310.55 C200.69,313.02 199.67,313.78 199.38,316.41 C199.14,318.53 200.2,319.69 198.59,321.09 C195.47,323.83 194.08,323.69 190,324.61 C186.91,325.3 186.05,325.33 182.97,324.61 C180.59,324.05 180.04,323.56 178.28,321.88 C175.74,319.44 174.95,318.87 173.59,315.62 C172.23,312.34 172.24,311.36 172.42,307.81 C172.6,304.36 172.83,303.48 174.38,300.39 Z" fill="#fff" stroke="#1a1a1a" stroke-width="0.9" stroke-linecap="round" stroke-linejoin="round" />
<path d="M174.38,300.39 L184.53,302.34 L192.34,314.84 L190,324.61" fill="none" stroke="#1a1a1a" stroke-width="0.9" stroke-linecap="round" stroke-linejoin="round" />
<path d="M184.53,302.34 L191.95,298.05" fill="none" stroke="#1a1a1a" stroke-width="0.9" stroke-linecap="round" stroke-linejoin="round" />
<path d="M192.34,314.84 L199.77,310.55" fill="none" stroke="#1a1a1a" stroke-width="0.9" stroke-linecap="round" stroke-linejoin="round" />
<ellipse cx="287.5" cy="775.5" rx="27" ry="40" transform="rotate(-19 287.5 775.5)" fill="#FFD34F" stroke="#1a1a1a" stroke-width="0.7"/>
<ellipse cx="280.5" cy="777.5" rx="27" ry="40" transform="rotate(-19 280.5 777.5)" fill="#FFF3C6" stroke="#1a1a1a" stroke-width="0.8"/>
<ellipse cx="280.5" cy="777.5" rx="20.5" ry="31.5" transform="rotate(-19 280.5 777.5)" fill="#fff" stroke="#1a1a1a" stroke-width="0.8"/>
<ellipse cx="282" cy="777" rx="18" ry="29" transform="rotate(-19 282 777)" fill="none" stroke="#1a1a1a" stroke-width="0.7"/>
<path d="M299.42,795.35 L297.53,798.26 L295.13,800.31 L292.33,801.39 L289.23,801.48 L285.96,800.56 L282.65,798.68 L279.44,795.91 L276.45,792.35 L273.81,788.16 L271.61,783.51 L269.95,778.57 L268.9,773.55 L268.49,768.64 L268.74,764.06 L269.65,759.97 L271.17,756.55 L273.25,753.92 L275.8,752.21 L278.72,751.46 L281.9,751.73" fill="none" stroke="#1a1a1a" stroke-width="0.7" stroke-linecap="round" stroke-linejoin="round" />
<rect x="-2.8" y="-1.5" width="5.6" height="3" rx="0.8" fill="#fff" stroke="#1a1a1a" stroke-width="0.7" transform="translate(304.59,775.76) rotate(77.68)"/>
<rect x="-2.8" y="-1.5" width="5.6" height="3" rx="0.8" fill="#fff" stroke="#1a1a1a" stroke-width="0.7" transform="translate(305.48,790.94) rotate(96.51)"/>
<rect x="-2.8" y="-1.5" width="5.6" height="3" rx="0.8" fill="#fff" stroke="#1a1a1a" stroke-width="0.7" transform="translate(301.42,803.45) rotate(121.64)"/>
<rect x="-2.8" y="-1.5" width="5.6" height="3" rx="0.8" fill="#fff" stroke="#1a1a1a" stroke-width="0.7" transform="translate(293.23,810.83) rotate(156.7)"/>
<rect x="-2.8" y="-1.5" width="5.6" height="3" rx="0.8" fill="#fff" stroke="#1a1a1a" stroke-width="0.7" transform="translate(282.51,811.6) rotate(-166.59)"/>
<rect x="-2.8" y="-1.5" width="5.6" height="3" rx="0.8" fill="#fff" stroke="#1a1a1a" stroke-width="0.7" transform="translate(271.39,805.62) rotate(-139.36)"/>
<rect x="-2.8" y="-1.5" width="5.6" height="3" rx="0.8" fill="#fff" stroke="#1a1a1a" stroke-width="0.7" transform="translate(262.08,794.07) rotate(-119.58)"/>
<rect x="-2.8" y="-1.5" width="5.6" height="3" rx="0.8" fill="#fff" stroke="#1a1a1a" stroke-width="0.7" transform="translate(256.41,779.24) rotate(-102.32)"/>
<rect x="-2.8" y="-1.5" width="5.6" height="3" rx="0.8" fill="#fff" stroke="#1a1a1a" stroke-width="0.7" transform="translate(255.52,764.06) rotate(-83.49)"/>
<rect x="-2.8" y="-1.5" width="5.6" height="3" rx="0.8" fill="#fff" stroke="#1a1a1a" stroke-width="0.7" transform="translate(259.58,751.55) rotate(-58.36)"/>
<rect x="-2.8" y="-1.5" width="5.6" height="3" rx="0.8" fill="#fff" stroke="#1a1a1a" stroke-width="0.7" transform="translate(267.77,744.17) rotate(-23.3)"/>
<rect x="-2.8" y="-1.5" width="5.6" height="3" rx="0.8" fill="#fff" stroke="#1a1a1a" stroke-width="0.7" transform="translate(278.49,743.4) rotate(13.41)"/>
<rect x="-2.8" y="-1.5" width="5.6" height="3" rx="0.8" fill="#fff" stroke="#1a1a1a" stroke-width="0.7" transform="translate(289.61,749.38) rotate(40.64)"/>
<rect x="-2.8" y="-1.5" width="5.6" height="3" rx="0.8" fill="#fff" stroke="#1a1a1a" stroke-width="0.7" transform="translate(298.92,760.93) rotate(60.42)"/>
<path d="M270.5,740.5 L276,738.2" fill="none" stroke="#1a1a1a" stroke-width="1.6" stroke-linecap="round" stroke-linejoin="round" />
<path d="M304.5,812.5 L309.5,807" fill="none" stroke="#1a1a1a" stroke-width="1.6" stroke-linecap="round" stroke-linejoin="round" />
<line x1="243.4" y1="800.5" x2="293.4" y2="773" stroke="#1a1a1a" stroke-width="0.9"/>
<line x1="309" y1="764" x2="423" y2="696.5" stroke="#1a1a1a" stroke-width="0.9"/>
<ellipse cx="466" cy="868" rx="14" ry="19.5" transform="rotate(-25 466 868)" fill="#fff" stroke="#1a1a1a" stroke-width="0.9"/>
<path d="M478.61,873.21 L478.55,876.02 L478.11,878.67 L477.32,881.1 L476.19,883.24 L474.74,885.04 L473.02,886.46 L471.07,887.46 L468.92,888.02 L466.65,888.12 L464.29,887.76 L461.92,886.96 L459.59,885.72 L457.35,884.09 L455.26,882.09 L453.38,879.79 L451.74,877.23 L450.4,874.48 L449.38,871.61 L448.7,868.69 L448.39,865.79" fill="none" stroke="#1a1a1a" stroke-width="0.9" stroke-linecap="round" stroke-linejoin="round" />
<path d="M449.2,861.7 L453.5,857.5 L464.5,856 L471.5,866 L472,877 L469,885.5 L461.7,887.5" fill="#fff" stroke="#1a1a1a" stroke-width="0.9" stroke-linecap="round" stroke-linejoin="round" />
<path d="M459.4,859.4 L464.5,856" fill="none" stroke="#1a1a1a" stroke-width="0.9" stroke-linecap="round" stroke-linejoin="round" />
<path d="M464.8,868.75 L471.5,866" fill="none" stroke="#1a1a1a" stroke-width="0.9" stroke-linecap="round" stroke-linejoin="round" />
<path d="M464,879.7 L472,877" fill="none" stroke="#1a1a1a" stroke-width="0.9" stroke-linecap="round" stroke-linejoin="round" />
<path d="M445.3,867.2 L449.2,861.7 L459.4,859.4 L464.8,868.75 L464,879.7 L461.7,887.5 L453,885 L446,876.5 Z" fill="#fff" stroke="#1a1a1a" stroke-width="0.9" stroke-linecap="round" stroke-linejoin="round" />
<ellipse cx="454.7" cy="873" rx="5.8" ry="8" transform="rotate(-25 454.7 873)" fill="#fff" stroke="#1a1a1a" stroke-width="0.9"/>
<path d="M453,876.54 L451.62,874.08 L451.01,871.41 L451.32,869.05 L452.47,867.5 L454.24,867.06 L456.26,867.82 L458.13,869.63 L459.46,872.12 L459.99,874.79 L459.62,877.1" fill="none" stroke="#1a1a1a" stroke-width="0.8" stroke-linecap="round" stroke-linejoin="round" />
<line x1="478" y1="861.7" x2="543" y2="824" stroke="#1a1a1a" stroke-width="0.9"/>
<line x1="441.4" y1="801.5" x2="507.8" y2="842" stroke="#1a1a1a" stroke-width="0.8"/>
<line x1="441.4" y1="801.5" x2="473" y2="784.5" stroke="#1a1a1a" stroke-width="0.8"/>
<path d="M672.7,736.9 L696.9,723.6 L702,725 L706.5,731 L706.25,736.9 L679.7,752.5 Z" fill="#fff" stroke="#1a1a1a" stroke-width="0.9" stroke-linecap="round" stroke-linejoin="round" />
<path d="M675.27,735.5 C675.27,735.5 676.39,739.57 677.84,742.69 C679.61,746.52 682.4,750.88 682.4,750.88" fill="none" stroke="#1a1a1a" stroke-width="0.8" stroke-linecap="round" stroke-linejoin="round" />
<path d="M677.82,734.1 C677.82,734.1 679.02,738.11 680.51,741.17 C682.36,744.94 685.21,749.23 685.21,749.23" fill="none" stroke="#1a1a1a" stroke-width="0.8" stroke-linecap="round" stroke-linejoin="round" />
<path d="M680.36,732.7 C680.36,732.7 681.65,736.64 683.19,739.64 C685.1,743.36 688.01,747.59 688.01,747.59" fill="none" stroke="#1a1a1a" stroke-width="0.8" stroke-linecap="round" stroke-linejoin="round" />
<path d="M682.91,731.3 C682.91,731.3 684.27,735.18 685.86,738.12 C687.84,741.79 690.82,745.94 690.82,745.94" fill="none" stroke="#1a1a1a" stroke-width="0.8" stroke-linecap="round" stroke-linejoin="round" />
<path d="M685.45,729.9 C685.45,729.9 686.9,733.71 688.54,736.6 C690.59,740.21 693.62,744.3 693.62,744.3" fill="none" stroke="#1a1a1a" stroke-width="0.8" stroke-linecap="round" stroke-linejoin="round" />
<path d="M687.99,728.5 C687.99,728.5 689.53,732.25 691.21,735.08 C693.33,738.63 696.43,742.66 696.43,742.66" fill="none" stroke="#1a1a1a" stroke-width="0.8" stroke-linecap="round" stroke-linejoin="round" />
<path d="M690.54,727.1 C690.54,727.1 692.15,730.78 693.89,733.56 C696.08,737.06 699.24,741.01 699.24,741.01" fill="none" stroke="#1a1a1a" stroke-width="0.8" stroke-linecap="round" stroke-linejoin="round" />
<path d="M693.08,725.7 C693.08,725.7 694.78,729.31 696.56,732.03 C698.82,735.48 702.04,739.37 702.04,739.37" fill="none" stroke="#1a1a1a" stroke-width="0.8" stroke-linecap="round" stroke-linejoin="round" />
<path d="M695.63,724.3 C695.63,724.3 697.41,727.85 699.24,730.51 C701.57,733.9 704.85,737.72 704.85,737.72" fill="none" stroke="#1a1a1a" stroke-width="0.8" stroke-linecap="round" stroke-linejoin="round" />
<ellipse cx="668.3" cy="749.7" rx="11.3" ry="16.2" transform="rotate(-28 668.3 749.7)" fill="#fff" stroke="#1a1a1a" stroke-width="0.9"/>
<ellipse cx="665.3" cy="751.3" rx="11.3" ry="16.2" transform="rotate(-28 665.3 751.3)" fill="#fff" stroke="#1a1a1a" stroke-width="0.9"/>
<path d="M631.25,761.9 L661,745.5 L666,748 L668.5,756 L665.6,762.7 L638.3,776.7 Z" fill="#fff" stroke="none"/>
<path d="M631.25,761.9 L661,745.5" fill="none" stroke="#1a1a1a" stroke-width="0.9" stroke-linecap="round" stroke-linejoin="round" />
<path d="M638.3,776.7 L665.6,762.7" fill="none" stroke="#1a1a1a" stroke-width="0.9" stroke-linecap="round" stroke-linejoin="round" />
<path d="M661,745.5 C661,745.5 664.54,745.95 666,748 C668.19,751.07 668.6,752.23 668.5,756 C668.41,759.28 665.6,762.7 665.6,762.7" fill="none" stroke="#1a1a1a" stroke-width="0.9" stroke-linecap="round" stroke-linejoin="round" />
<path d="M635.39,759.53 C635.39,759.53 636.44,763.53 637.83,766.59 C639.55,770.36 642.28,774.64 642.28,774.64" fill="none" stroke="#1a1a1a" stroke-width="0.8" stroke-linecap="round" stroke-linejoin="round" />
<path d="M638.17,758 C638.17,758 639.15,762.06 640.5,765.17 C642.16,768.98 644.83,773.33 644.83,773.33" fill="none" stroke="#1a1a1a" stroke-width="0.8" stroke-linecap="round" stroke-linejoin="round" />
<path d="M640.94,756.47 C640.94,756.47 641.86,760.58 643.17,763.74 C644.77,767.61 647.39,772.02 647.39,772.02" fill="none" stroke="#1a1a1a" stroke-width="0.8" stroke-linecap="round" stroke-linejoin="round" />
<path d="M643.72,754.93 C643.72,754.93 644.56,759.11 645.83,762.32 C647.38,766.23 649.94,770.71 649.94,770.71" fill="none" stroke="#1a1a1a" stroke-width="0.8" stroke-linecap="round" stroke-linejoin="round" />
<path d="M646.5,753.4 C646.5,753.4 647.27,757.63 648.5,760.9 C649.98,764.86 652.5,769.4 652.5,769.4" fill="none" stroke="#1a1a1a" stroke-width="0.8" stroke-linecap="round" stroke-linejoin="round" />
<path d="M649.28,751.87 C649.28,751.87 649.98,756.15 651.17,759.48 C652.59,763.48 655.06,768.09 655.06,768.09" fill="none" stroke="#1a1a1a" stroke-width="0.8" stroke-linecap="round" stroke-linejoin="round" />
<path d="M652.06,750.33 C652.06,750.33 652.69,754.68 653.83,758.06 C655.2,762.11 657.61,766.78 657.61,766.78" fill="none" stroke="#1a1a1a" stroke-width="0.8" stroke-linecap="round" stroke-linejoin="round" />
<path d="M654.83,748.8 C654.83,748.8 655.4,753.2 656.5,756.63 C657.81,760.73 660.17,765.47 660.17,765.47" fill="none" stroke="#1a1a1a" stroke-width="0.8" stroke-linecap="round" stroke-linejoin="round" />
<path d="M657.61,747.27 C657.61,747.27 658.11,751.72 659.17,755.21 C660.42,759.36 662.72,764.16 662.72,764.16" fill="none" stroke="#1a1a1a" stroke-width="0.8" stroke-linecap="round" stroke-linejoin="round" />
<ellipse cx="634.6" cy="769.2" rx="4.2" ry="8" transform="rotate(-28 634.6 769.2)" fill="#fff" stroke="#1a1a1a" stroke-width="0.9"/>
<line x1="610" y1="783.75" x2="631.25" y2="771.25" stroke="#1a1a1a" stroke-width="0.8"/>
<path d="M613.3,792.7 C613.3,792.7 620.15,793.37 625.4,795.2 C632.51,797.67 634.1,798.4 640.6,802.2 C647.88,806.45 649.49,807.53 655.9,813 C663.26,819.28 664.55,821.09 671.1,828.2 C678.24,835.95 679.98,837.57 686.3,846 C692.02,853.63 693.16,855.47 697.8,863.8 C701.78,870.94 702.38,872.7 705.4,880.3 C707.52,885.64 709.2,892.5 709.2,892.5 L713.6,893.6 L707.9,908.2 L694.6,899.3 L699.7,898.1 C699.7,898.1 697.61,890.26 695.2,884.1 C691.57,874.81 690.98,872.61 686.3,863.8 C681.24,854.29 679.91,852.23 673.6,843.5 C667.91,835.63 666.41,834.02 659.7,827 C653.82,820.85 652.26,819.71 645.7,814.3 C639.11,808.86 637.59,807.68 630.5,802.9 C624.43,798.8 622.23,798 616.5,794.6 C615.06,793.75 613.3,792.7 613.3,792.7 Z" fill="#000"/>
<path d="M663.4,942 L752.2,888.3 L758.3,884 L797.9,907.7 L791.7,912 L682.7,977 Z" fill="#fff" stroke="#1a1a1a" stroke-width="0.9" stroke-linecap="round" stroke-linejoin="round" />
<path d="M752.2,888.3 L791.7,912" fill="none" stroke="#1a1a1a" stroke-width="0.8" stroke-linecap="round" stroke-linejoin="round" />
<line x1="753.61" y1="889.15" x2="759.71" y2="884.85" stroke="#1a1a1a" stroke-width="0.8"/>
<line x1="756.43" y1="890.84" x2="762.53" y2="886.54" stroke="#1a1a1a" stroke-width="0.8"/>
<line x1="759.25" y1="892.53" x2="765.35" y2="888.23" stroke="#1a1a1a" stroke-width="0.8"/>
<line x1="762.08" y1="894.22" x2="768.18" y2="889.92" stroke="#1a1a1a" stroke-width="0.8"/>
<line x1="764.9" y1="895.92" x2="771" y2="891.62" stroke="#1a1a1a" stroke-width="0.8"/>
<line x1="767.72" y1="897.61" x2="773.82" y2="893.31" stroke="#1a1a1a" stroke-width="0.8"/>
<line x1="770.54" y1="899.3" x2="776.64" y2="895" stroke="#1a1a1a" stroke-width="0.8"/>
<line x1="773.36" y1="901" x2="779.46" y2="896.7" stroke="#1a1a1a" stroke-width="0.8"/>
<line x1="776.18" y1="902.69" x2="782.28" y2="898.39" stroke="#1a1a1a" stroke-width="0.8"/>
<line x1="779" y1="904.38" x2="785.1" y2="900.08" stroke="#1a1a1a" stroke-width="0.8"/>
<line x1="781.83" y1="906.08" x2="787.93" y2="901.78" stroke="#1a1a1a" stroke-width="0.8"/>
<line x1="784.65" y1="907.77" x2="790.75" y2="903.47" stroke="#1a1a1a" stroke-width="0.8"/>
<line x1="787.47" y1="909.46" x2="793.57" y2="905.16" stroke="#1a1a1a" stroke-width="0.8"/>
<line x1="790.29" y1="911.15" x2="796.39" y2="906.85" stroke="#1a1a1a" stroke-width="0.8"/>
<ellipse cx="669.5" cy="961.3" rx="12.5" ry="19.5" transform="rotate(-22 669.5 961.3)" fill="#fff" stroke="#1a1a1a" stroke-width="0.9"/>
<path d="M669.6,941.91 L672.57,942.74 L675.53,944.4 L678.35,946.84 L680.89,949.92 L683.04,953.5 L684.68,957.41 L685.75,961.47 L686.19,965.48 L685.98,969.26 L685.13,972.62 L683.68,975.41 L681.71,977.49" fill="none" stroke="#1a1a1a" stroke-width="0.8" stroke-linecap="round" stroke-linejoin="round" />
<path d="M646.7,966.6 L648.5,961 L661.6,952.5 L667.8,956 L674,970 L667.8,975.3 L654.6,978.9 L648.5,975 Z" fill="#fff" stroke="#1a1a1a" stroke-width="0.9" stroke-linecap="round" stroke-linejoin="round" />
<line x1="650.5" y1="961" x2="662.5" y2="953.5" stroke="#1a1a1a" stroke-width="0.7"/>
<line x1="651.33" y1="963.75" x2="663.67" y2="956.92" stroke="#1a1a1a" stroke-width="0.7"/>
<line x1="652.17" y1="966.5" x2="664.83" y2="960.33" stroke="#1a1a1a" stroke-width="0.7"/>
<line x1="653" y1="969.25" x2="666" y2="963.75" stroke="#1a1a1a" stroke-width="0.7"/>
<line x1="653.83" y1="972" x2="667.17" y2="967.17" stroke="#1a1a1a" stroke-width="0.7"/>
<line x1="654.67" y1="974.75" x2="668.33" y2="970.58" stroke="#1a1a1a" stroke-width="0.7"/>
<line x1="655.5" y1="977.5" x2="669.5" y2="974" stroke="#1a1a1a" stroke-width="0.7"/>
<ellipse cx="651" cy="970.5" rx="4.3" ry="7.6" transform="rotate(-22 651 970.5)" fill="#fff" stroke="#1a1a1a" stroke-width="0.9"/>
<ellipse cx="651.5" cy="970.3" rx="2.6" ry="5.4" transform="rotate(-22 651.5 970.3)" fill="#fff" stroke="#1a1a1a" stroke-width="0.7"/>
<path d="M654.6,984 C653,990 650,993 650,996.8 C650,999.5 652,1001 654.4,1001 C657,1001 659,999.5 659,996.8 C659,993 656,990 654.6,984 Z" fill="#fff" stroke="#1a1a1a" stroke-width="0.9"/>
<g transform="translate(704.5,938) rotate(-31)">
<text x="0.7" y="6.5" font-size="17.8" fill="#111" text-anchor="middle">RTV</text>
</g>
<path d="M180.8,41 L172.55,56 L189.05,56 Z" fill="#000"/>
<rect x="200.8" y="46.2" width="10.4" height="2.2" fill="#000"/><rect x="200.8" y="51" width="10.4" height="2.2" fill="#000"/>
<text x="224.7" y="57.3" font-size="17.8" font-weight="bold" fill="#0000ff">1</text>
<path d="M437,167 L429.25,181.5 L444.75,181.5 Z" fill="#000"/>
<line x1="437.6" y1="189" x2="437.6" y2="221" stroke="#4d4d4d" stroke-width="1.1"/>
<circle cx="437.6" cy="221.3" r="3" fill="#000"/>
<text x="183.3" y="245" font-size="17.8" font-weight="bold" fill="#0000ff">6</text>
<line x1="189.6" y1="250.5" x2="189.6" y2="284" stroke="#4d4d4d" stroke-width="1.1"/>
<circle cx="189.6" cy="284" r="3" fill="#000"/>
<line x1="236" y1="280" x2="301" y2="245.5" stroke="#4d4d4d" stroke-width="0.8"/>
<line x1="753.3" y1="134.3" x2="844.7" y2="134.3" stroke="#4d4d4d" stroke-width="1.1"/>
<line x1="844.7" y1="134.3" x2="844.7" y2="283.7" stroke="#4d4d4d" stroke-width="1.1"/>
<line x1="844.7" y1="283.7" x2="826" y2="283.7" stroke="#4d4d4d" stroke-width="1.1"/>
<line x1="844.7" y1="199.8" x2="851" y2="199.8" stroke="#4d4d4d" stroke-width="1.1"/>
<circle cx="753.3" cy="134.3" r="3" fill="#000"/>
<circle cx="825.8" cy="283.7" r="3" fill="#000"/>
<text x="859.5" y="206.5" font-size="17.8" font-weight="bold" fill="#0000ff">5</text>
<circle cx="685.6" cy="393.5" r="3" fill="#000"/>
<line x1="685.6" y1="393.5" x2="724.5" y2="393.5" stroke="#4d4d4d" stroke-width="1.1"/>
<text x="734.8" y="400.3" font-size="17.8" font-weight="bold" fill="#0000ff">4</text>
<line x1="755.5" y1="393.5" x2="815.3" y2="393.5" stroke="#4d4d4d" stroke-width="1.1"/>
<line x1="815.3" y1="393.5" x2="815.3" y2="669.5" stroke="#4d4d4d" stroke-width="1.1"/>
<line x1="815.3" y1="669.5" x2="660.3" y2="669.5" stroke="#4d4d4d" stroke-width="1.1"/>
<circle cx="660.3" cy="669.5" r="3" fill="#000"/>
<circle cx="611.3" cy="578.4" r="3" fill="#000"/>
<line x1="611.3" y1="578.4" x2="714.5" y2="578.4" stroke="#4d4d4d" stroke-width="0.8"/>
<path d="M722,585.3 L730,571 L734.8,579.5 L734.8,585.3 Z" fill="#000"/>
<text x="743.4" y="584.8" font-size="17.8" font-weight="bold" fill="#0000ff">3</text>
<line x1="762" y1="578.4" x2="829" y2="578.4" stroke="#4d4d4d" stroke-width="1.1"/>
<text x="832.5" y="584.5" font-size="17.8" font-weight="bold" fill="#0000ff">1A</text>
<circle cx="704.6" cy="734.5" r="3" fill="#000"/>
<line x1="704.6" y1="734.5" x2="737.5" y2="734.5" stroke="#4d4d4d" stroke-width="1.1"/>
<text x="746.4" y="737.2" font-size="17.8" font-weight="bold" fill="#0000ff">9</text>
<text x="726.3" y="824.2" font-size="17.8" font-weight="bold" fill="#0000ff">8</text>
<line x1="732.5" y1="829" x2="732.5" y2="899.8" stroke="#4d4d4d" stroke-width="1.1"/>
<circle cx="732.5" cy="899.8" r="3" fill="#000"/>
<circle cx="293" cy="819.5" r="3" fill="#000"/>
<line x1="293" y1="819.5" x2="293" y2="853.6" stroke="#4d4d4d" stroke-width="1.1"/>
<text x="286.8" y="875" font-size="17.8" font-weight="bold" fill="#0000ff">2</text>
<circle cx="466.4" cy="890.6" r="3" fill="#000"/>
<line x1="466.4" y1="890.6" x2="466.4" y2="924" stroke="#4d4d4d" stroke-width="1.1"/>
<text x="460.7" y="947" font-size="17.8" font-weight="bold" fill="#0000ff">7</text>
</svg>
</body></html>
